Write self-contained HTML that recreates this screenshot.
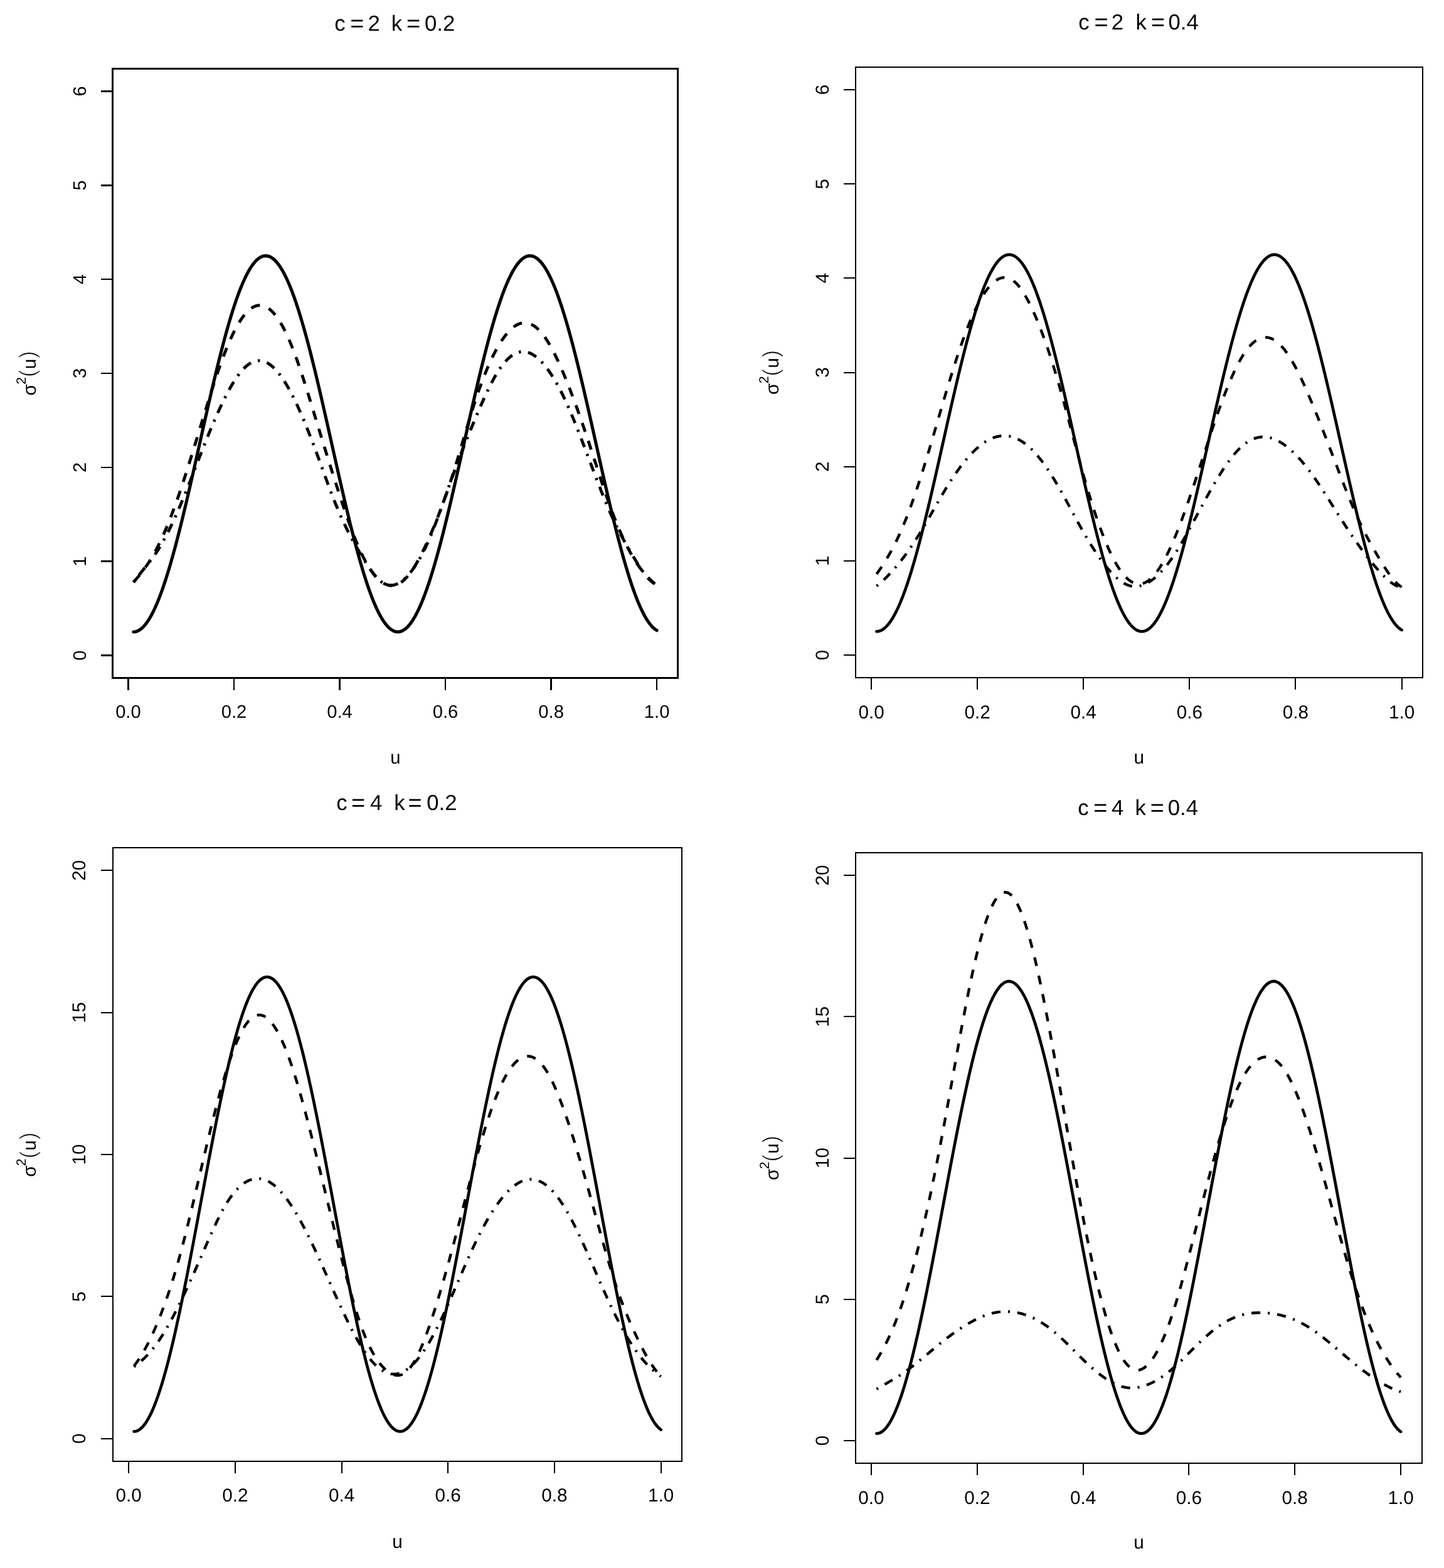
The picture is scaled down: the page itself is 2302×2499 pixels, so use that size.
<!DOCTYPE html>
<html lang="en"><head><meta charset="utf-8"><title>Variance function estimates</title>
<style>html,body{margin:0;padding:0;background:#fff}body{width:2302px;height:2499px;overflow:hidden}svg{display:block}text{white-space:pre}</style>
</head><body>
<svg width="2302" height="2499" viewBox="0 0 2302 2499" shape-rendering="auto" text-rendering="geometricPrecision">
<rect width="2302" height="2499" fill="#fff"/>
<g>
<g fill="none" stroke="#000" stroke-width="3" stroke-linecap="butt" shape-rendering="crispEdges">
<path d="M204.44 1080.5V1099.5M372.98 1080.5V1099.5M541.52 1080.5V1099.5M710.06 1080.5V1099.5M878.59 1080.5V1099.5M1047.13 1080.5V1099.5M179.5 1044.54H160.5M179.5 894.69H160.5M179.5 744.85H160.5M179.5 595H160.5M179.5 445.15H160.5M179.5 295.31H160.5M179.5 145.46H160.5" stroke-width="2.4"/>
<rect x="179.5" y="109.5" width="901" height="971"/>
</g>
<g fill="none" stroke="#000" stroke-linejoin="round">
<path d="M212.87 1007.08L214.98 1006.93L217.08 1006.48L219.19 1005.75L221.3 1004.71L223.4 1003.39L225.51 1001.77L227.62 999.86L229.72 997.66L231.83 995.18L233.94 992.41L236.04 989.36L238.15 986.03L240.26 982.43L242.36 978.55L244.47 974.41L246.58 970.01L248.68 965.34L250.79 960.42L252.9 955.25L255 949.84L257.11 944.19L259.22 938.3L261.32 932.19L263.43 925.85L265.54 919.3L267.64 912.54L269.75 905.57L271.86 898.41L273.97 891.07L276.07 883.54L278.18 875.84L280.29 867.97L282.39 859.94L284.5 851.76L286.61 843.44L288.71 834.99L290.82 826.41L292.93 817.71L295.03 808.9L297.14 799.99L299.25 791L301.35 781.91L303.46 772.76L305.57 763.54L307.67 754.27L309.78 744.95L311.89 735.59L313.99 726.2L316.1 716.8L318.21 707.38L320.31 697.97L322.42 688.57L324.53 679.18L326.63 669.82L328.74 660.5L330.85 651.23L332.95 642.01L335.06 632.85L337.17 623.77L339.27 614.77L341.38 605.87L343.49 597.06L345.59 588.36L347.7 579.78L349.81 571.33L351.91 563.01L354.02 554.83L356.13 546.8L358.23 538.93L360.34 531.23L362.45 523.7L364.55 516.35L366.66 509.19L368.77 502.23L370.87 495.47L372.98 488.92L375.09 482.58L377.19 476.47L379.3 470.58L381.41 464.93L383.51 459.52L385.62 454.35L387.73 449.43L389.83 444.76L391.94 440.36L394.05 436.22L396.15 432.34L398.26 428.74L400.37 425.41L402.47 422.36L404.58 419.59L406.69 417.11L408.79 414.91L410.9 413L413.01 411.38L415.12 410.06L417.22 409.02L419.33 408.28L421.44 407.84L423.54 407.69L425.65 407.84L427.76 408.28L429.86 409.02L431.97 410.06L434.08 411.38L436.18 413L438.29 414.91L440.4 417.11L442.5 419.59L444.61 422.36L446.72 425.41L448.82 428.74L450.93 432.34L453.04 436.22L455.14 440.36L457.25 444.76L459.36 449.43L461.46 454.35L463.57 459.52L465.68 464.93L467.78 470.58L469.89 476.47L472 482.58L474.1 488.92L476.21 495.47L478.32 502.23L480.42 509.19L482.53 516.35L484.64 523.7L486.74 531.23L488.85 538.93L490.96 546.8L493.06 554.83L495.17 563.01L497.28 571.33L499.38 579.78L501.49 588.36L503.6 597.06L505.7 605.87L507.81 614.77L509.92 623.77L512.02 632.85L514.13 642.01L516.24 651.23L518.34 660.5L520.45 669.82L522.56 679.18L524.66 688.57L526.77 697.97L528.88 707.38L530.98 716.8L533.09 726.2L535.2 735.59L537.3 744.95L539.41 754.27L541.52 763.54L543.62 772.76L545.73 781.91L547.84 791L549.94 799.99L552.05 808.9L554.16 817.71L556.26 826.41L558.37 834.99L560.48 843.44L562.59 851.76L564.69 859.94L566.8 867.97L568.91 875.84L571.01 883.54L573.12 891.07L575.23 898.41L577.33 905.57L579.44 912.54L581.55 919.3L583.65 925.85L585.76 932.19L587.87 938.3L589.97 944.19L592.08 949.84L594.19 955.25L596.29 960.42L598.4 965.34L600.51 970.01L602.61 974.41L604.72 978.55L606.83 982.43L608.93 986.03L611.04 989.36L613.15 992.41L615.25 995.18L617.36 997.66L619.47 999.86L621.57 1001.77L623.68 1003.39L625.79 1004.71L627.89 1005.75L630 1006.48L632.11 1006.93L634.21 1007.08L636.32 1006.93L638.43 1006.48L640.53 1005.75L642.64 1004.71L644.75 1003.39L646.85 1001.77L648.96 999.86L651.07 997.66L653.17 995.18L655.28 992.41L657.39 989.36L659.49 986.03L661.6 982.43L663.71 978.55L665.81 974.41L667.92 970.01L670.03 965.34L672.13 960.42L674.24 955.25L676.35 949.84L678.45 944.19L680.56 938.3L682.67 932.19L684.77 925.85L686.88 919.3L688.99 912.54L691.09 905.57L693.2 898.41L695.31 891.07L697.41 883.54L699.52 875.84L701.63 867.97L703.74 859.94L705.84 851.76L707.95 843.44L710.06 834.99L712.16 826.41L714.27 817.71L716.38 808.9L718.48 799.99L720.59 791L722.7 781.91L724.8 772.76L726.91 763.54L729.02 754.27L731.12 744.95L733.23 735.59L735.34 726.2L737.44 716.8L739.55 707.38L741.66 697.97L743.76 688.57L745.87 679.18L747.98 669.82L750.08 660.5L752.19 651.23L754.3 642.01L756.4 632.85L758.51 623.77L760.62 614.77L762.72 605.87L764.83 597.06L766.94 588.36L769.04 579.78L771.15 571.33L773.26 563.01L775.36 554.83L777.47 546.8L779.58 538.93L781.68 531.23L783.79 523.7L785.9 516.35L788 509.19L790.11 502.23L792.22 495.47L794.32 488.92L796.43 482.58L798.54 476.47L800.64 470.58L802.75 464.93L804.86 459.52L806.96 454.35L809.07 449.43L811.18 444.76L813.28 440.36L815.39 436.22L817.5 432.34L819.6 428.74L821.71 425.41L823.82 422.36L825.92 419.59L828.03 417.11L830.14 414.91L832.24 413L834.35 411.38L836.46 410.06L838.56 409.02L840.67 408.28L842.78 407.84L844.88 407.69L846.99 407.84L849.1 408.28L851.21 409.02L853.31 410.06L855.42 411.38L857.53 413L859.63 414.91L861.74 417.11L863.85 419.59L865.95 422.36L868.06 425.41L870.17 428.74L872.27 432.34L874.38 436.22L876.49 440.36L878.59 444.76L880.7 449.43L882.81 454.35L884.91 459.52L887.02 464.93L889.13 470.58L891.23 476.47L893.34 482.58L895.45 488.92L897.55 495.47L899.66 502.23L901.77 509.19L903.87 516.35L905.98 523.7L908.09 531.23L910.19 538.93L912.3 546.8L914.41 554.83L916.51 563.01L918.62 571.33L920.73 579.78L922.83 588.36L924.94 597.06L927.05 605.87L929.15 614.77L931.26 623.77L933.37 632.85L935.47 642.01L937.58 651.23L939.69 660.5L941.79 669.82L943.9 679.18L946.01 688.57L948.11 697.97L950.22 707.38L952.33 716.8L954.43 726.2L956.54 735.59L958.65 744.95L960.75 754.27L962.86 763.54L964.97 772.76L967.07 781.91L969.18 791L971.29 799.99L973.39 808.9L975.5 817.71L977.61 826.41L979.71 834.99L981.82 843.44L983.93 851.76L986.03 859.94L988.14 867.97L990.25 875.84L992.36 883.54L994.46 891.07L996.57 898.41L998.68 905.57L1000.78 912.54L1002.89 919.3L1005 925.85L1007.1 932.19L1009.21 938.3L1011.32 944.19L1013.42 949.84L1015.53 955.25L1017.64 960.42L1019.74 965.34L1021.85 970.01L1023.96 974.41L1026.06 978.55L1028.17 982.43L1030.28 986.03L1032.38 989.36L1034.49 992.41L1036.6 995.18L1038.7 997.66L1040.81 999.86L1042.92 1001.77L1045.02 1003.39L1047.13 1004.71" stroke-width="5.1" stroke-linecap="round"/>
<path d="M212.87 927.76L214.98 925.4L217.08 922.99L219.19 920.52L221.3 917.99L223.4 915.38L225.51 912.7L227.62 909.94L229.72 907.1L231.83 904.16L233.94 901.12L236.04 897.98L238.15 894.73L240.26 891.36L242.36 887.88L244.47 884.26L246.58 880.52L248.68 876.64L250.79 872.62L252.9 868.45L255 864.15L257.11 859.71L259.22 855.13L261.32 850.42L263.43 845.58L265.54 840.61L267.64 835.52L269.75 830.31L271.86 824.97L273.97 819.52L276.07 813.95L278.18 808.27L280.29 802.47L282.39 796.57L284.5 790.57L286.61 784.46L288.71 778.25L290.82 771.95L292.93 765.56L295.03 759.09L297.14 752.56L299.25 745.95L301.35 739.29L303.46 732.57L305.57 725.8L307.67 719L309.78 712.16L311.89 705.3L313.99 698.41L316.1 691.51L318.21 684.61L320.31 677.7L322.42 670.8L324.53 663.91L326.63 657.04L328.74 650.2L330.85 643.41L332.95 636.66L335.06 629.96L337.17 623.34L339.27 616.78L341.38 610.31L343.49 603.93L345.59 597.66L347.7 591.49L349.81 585.44L351.91 579.52L354.02 573.73L356.13 568.09L358.23 562.6L360.34 557.28L362.45 552.12L364.55 547.12L366.66 542.3L368.77 537.66L370.87 533.2L372.98 528.91L375.09 524.82L377.19 520.91L379.3 517.2L381.41 513.69L383.51 510.37L385.62 507.26L387.73 504.36L389.83 501.66L391.94 499.19L394.05 496.93L396.15 494.89L398.26 493.07L400.37 491.47L402.47 490.1L404.58 488.96L406.69 488.03L408.79 487.33L410.9 486.86L413.01 486.61L415.12 486.59L417.22 486.8L419.33 487.23L421.44 487.89L423.54 488.79L425.65 489.9L427.76 491.25L429.86 492.83L431.97 494.64L434.08 496.68L436.18 498.95L438.29 501.43L440.4 504.15L442.5 507.08L444.61 510.22L446.72 513.58L448.82 517.16L450.93 520.94L453.04 524.93L455.14 529.12L457.25 533.51L459.36 538.11L461.46 542.9L463.57 547.88L465.68 553.06L467.78 558.42L469.89 563.97L472 569.68L474.1 575.56L476.21 581.59L478.32 587.75L480.42 594.04L482.53 600.45L484.64 606.95L486.74 613.55L488.85 620.23L490.96 626.97L493.06 633.78L495.17 640.63L497.28 647.51L499.38 654.41L501.49 661.33L503.6 668.24L505.7 675.15L507.81 682.04L509.92 688.92L512.02 695.78L514.13 702.63L516.24 709.46L518.34 716.26L520.45 723.04L522.56 729.8L524.66 736.53L526.77 743.24L528.88 749.91L530.98 756.55L533.09 763.16L535.2 769.73L537.3 776.26L539.41 782.76L541.52 789.21L543.62 795.62L545.73 801.96L547.84 808.25L549.94 814.45L552.05 820.57L554.16 826.6L556.26 832.53L558.37 838.35L560.48 844.05L562.59 849.62L564.69 855.06L566.8 860.35L568.91 865.49L571.01 870.46L573.12 875.27L575.23 879.9L577.33 884.34L579.44 888.58L581.55 892.64L583.65 896.51L585.76 900.18L587.87 903.67L589.97 906.96L592.08 910.05L594.19 912.96L596.29 915.67L598.4 918.19L600.51 920.51L602.61 922.64L604.72 924.58L606.83 926.32L608.93 927.87L611.04 929.22L613.15 930.37L615.25 931.33L617.36 932.09L619.47 932.66L621.57 933.02L623.68 933.19L625.79 933.16L627.89 932.93L630 932.49L632.11 931.86L634.21 931.02L636.32 929.98L638.43 928.74L640.53 927.29L642.64 925.64L644.75 923.78L646.85 921.71L648.96 919.44L651.07 916.97L653.17 914.29L655.28 911.43L657.39 908.38L659.49 905.16L661.6 901.77L663.71 898.22L665.81 894.51L667.92 890.66L670.03 886.68L672.13 882.56L674.24 878.32L676.35 873.96L678.45 869.5L680.56 864.94L682.67 860.28L684.77 855.54L686.88 850.72L688.99 845.82L691.09 840.83L693.2 835.76L695.31 830.59L697.41 825.33L699.52 819.98L701.63 814.52L703.74 808.96L705.84 803.29L707.95 797.51L710.06 791.62L712.16 785.61L714.27 779.48L716.38 773.22L718.48 766.84L720.59 760.33L722.7 753.68L724.8 746.92L726.91 740.05L729.02 733.1L731.12 726.07L733.23 718.99L735.34 711.88L737.44 704.74L739.55 697.61L741.66 690.49L743.76 683.4L745.87 676.36L747.98 669.38L750.08 662.49L752.19 655.7L754.3 649.02L756.4 642.48L758.51 636.09L760.62 629.85L762.72 623.77L764.83 617.86L766.94 612.09L769.04 606.49L771.15 601.05L773.26 595.76L775.36 590.64L777.47 585.67L779.58 580.86L781.68 576.21L783.79 571.72L785.9 567.39L788 563.22L790.11 559.22L792.22 555.37L794.32 551.68L796.43 548.15L798.54 544.78L800.64 541.58L802.75 538.55L804.86 535.69L806.96 533L809.07 530.48L811.18 528.13L813.28 525.97L815.39 523.98L817.5 522.18L819.6 520.56L821.71 519.12L823.82 517.88L825.92 516.82L828.03 515.95L830.14 515.28L832.24 514.81L834.35 514.53L836.46 514.44L838.56 514.55L840.67 514.86L842.78 515.36L844.88 516.06L846.99 516.95L849.1 518.04L851.21 519.33L853.31 520.8L855.42 522.48L857.53 524.34L859.63 526.41L861.74 528.66L863.85 531.12L865.95 533.76L868.06 536.6L870.17 539.63L872.27 542.84L874.38 546.23L876.49 549.79L878.59 553.51L880.7 557.39L882.81 561.42L884.91 565.59L887.02 569.91L889.13 574.35L891.23 578.93L893.34 583.62L895.45 588.42L897.55 593.34L899.66 598.35L901.77 603.46L903.87 608.66L905.98 613.94L908.09 619.3L910.19 624.75L912.3 630.27L914.41 635.88L916.51 641.55L918.62 647.3L920.73 653.12L922.83 659L924.94 664.96L927.05 670.97L929.15 677.05L931.26 683.19L933.37 689.38L935.47 695.63L937.58 701.94L939.69 708.29L941.79 714.69L943.9 721.13L946.01 727.59L948.11 734.07L950.22 740.54L952.33 747.02L954.43 753.47L956.54 759.9L958.65 766.29L960.75 772.62L962.86 778.9L964.97 785.11L967.07 791.24L969.18 797.28L971.29 803.22L973.39 809.05L975.5 814.75L977.61 820.32L979.71 825.76L981.82 831.07L983.93 836.25L986.03 841.3L988.14 846.22L990.25 851.01L992.36 855.66L994.46 860.19L996.57 864.58L998.68 868.84L1000.78 872.98L1002.89 876.97L1005 880.84L1007.1 884.58L1009.21 888.18L1011.32 891.66L1013.42 895L1015.53 898.21L1017.64 901.3L1019.74 904.26L1021.85 907.1L1023.96 909.82L1026.06 912.42L1028.17 914.9L1030.28 917.28L1032.38 919.54L1034.49 921.69L1036.6 923.74L1038.7 925.69L1040.81 927.53L1042.92 929.28L1045.02 930.93L1047.13 932.48" stroke-width="4.8" stroke-linecap="butt" stroke-dasharray="14.78 15.18" stroke-dashoffset="0"/>
<path d="M212.87 928.26L214.98 925.28L217.08 922.4L219.19 919.59L221.3 916.86L223.4 914.17L225.51 911.53L227.62 908.92L229.72 906.32L231.83 903.72L233.94 901.11L236.04 898.47L238.15 895.79L240.26 893.06L242.36 890.27L244.47 887.39L246.58 884.43L248.68 881.35L250.79 878.16L252.9 874.85L255 871.42L257.11 867.88L259.22 864.22L261.32 860.45L263.43 856.57L265.54 852.58L267.64 848.5L269.75 844.31L271.86 840.02L273.97 835.64L276.07 831.16L278.18 826.59L280.29 821.93L282.39 817.19L284.5 812.36L286.61 807.45L288.71 802.46L290.82 797.41L292.93 792.28L295.03 787.1L297.14 781.87L299.25 776.6L301.35 771.28L303.46 765.93L305.57 760.56L307.67 755.17L309.78 749.76L311.89 744.35L313.99 738.94L316.1 733.53L318.21 728.14L320.31 722.76L322.42 717.41L324.53 712.09L326.63 706.81L328.74 701.56L330.85 696.36L332.95 691.21L335.06 686.11L337.17 681.06L339.27 676.08L341.38 671.16L343.49 666.31L345.59 661.53L347.7 656.83L349.81 652.21L351.91 647.68L354.02 643.24L356.13 638.89L358.23 634.64L360.34 630.49L362.45 626.45L364.55 622.53L366.66 618.72L368.77 615.04L370.87 611.48L372.98 608.06L375.09 604.78L377.19 601.64L379.3 598.65L381.41 595.82L383.51 593.15L385.62 590.64L387.73 588.3L389.83 586.14L391.94 584.16L394.05 582.37L396.15 580.76L398.26 579.35L400.37 578.13L402.47 577.1L404.58 576.26L406.69 575.61L408.79 575.15L410.9 574.87L413.01 574.78L415.12 574.88L417.22 575.17L419.33 575.64L421.44 576.29L423.54 577.13L425.65 578.15L427.76 579.35L429.86 580.73L431.97 582.3L434.08 584.04L436.18 585.96L438.29 588.05L440.4 590.31L442.5 592.73L444.61 595.32L446.72 598.06L448.82 600.96L450.93 604.01L453.04 607.2L455.14 610.55L457.25 614.03L459.36 617.65L461.46 621.4L463.57 625.29L465.68 629.3L467.78 633.44L469.89 637.7L472 642.08L474.1 646.56L476.21 651.16L478.32 655.86L480.42 660.66L482.53 665.55L484.64 670.54L486.74 675.62L488.85 680.78L490.96 686.02L493.06 691.34L495.17 696.73L497.28 702.19L499.38 707.71L501.49 713.29L503.6 718.93L505.7 724.62L507.81 730.35L509.92 736.11L512.02 741.88L514.13 747.67L516.24 753.45L518.34 759.22L520.45 764.96L522.56 770.67L524.66 776.33L526.77 781.93L528.88 787.47L530.98 792.92L533.09 798.29L535.2 803.56L537.3 808.72L539.41 813.75L541.52 818.66L543.62 823.44L545.73 828.09L547.84 832.63L549.94 837.06L552.05 841.38L554.16 845.6L556.26 849.73L558.37 853.78L560.48 857.74L562.59 861.62L564.69 865.44L566.8 869.18L568.91 872.87L571.01 876.51L573.12 880.1L575.23 883.65L577.33 887.16L579.44 890.62L581.55 894.04L583.65 897.38L585.76 900.65L587.87 903.83L589.97 906.9L592.08 909.86L594.19 912.69L596.29 915.39L598.4 917.94L600.51 920.32L602.61 922.53L604.72 924.55L606.83 926.38L608.93 928L611.04 929.39L613.15 930.55L615.25 931.48L617.36 932.17L619.47 932.64L621.57 932.89L623.68 932.92L625.79 932.74L627.89 932.36L630 931.77L632.11 930.99L634.21 930.03L636.32 928.88L638.43 927.55L640.53 926.05L642.64 924.38L644.75 922.55L646.85 920.56L648.96 918.42L651.07 916.14L653.17 913.7L655.28 911.12L657.39 908.38L659.49 905.49L661.6 902.44L663.71 899.24L665.81 895.88L667.92 892.36L670.03 888.68L672.13 884.85L674.24 880.84L676.35 876.68L678.45 872.35L680.56 867.85L682.67 863.18L684.77 858.34L686.88 853.34L688.99 848.18L691.09 842.87L693.2 837.44L695.31 831.89L697.41 826.24L699.52 820.5L701.63 814.69L703.74 808.82L705.84 802.9L707.95 796.95L710.06 790.98L712.16 785.01L714.27 779.05L716.38 773.11L718.48 767.21L720.59 761.36L722.7 755.57L724.8 749.85L726.91 744.19L729.02 738.59L731.12 733.05L733.23 727.57L735.34 722.14L737.44 716.76L739.55 711.43L741.66 706.15L743.76 700.9L745.87 695.7L747.98 690.54L750.08 685.41L752.19 680.32L754.3 675.25L756.4 670.22L758.51 665.2L760.62 660.22L762.72 655.28L764.83 650.38L766.94 645.54L769.04 640.76L771.15 636.05L773.26 631.42L775.36 626.88L777.47 622.43L779.58 618.09L781.68 613.87L783.79 609.76L785.9 605.79L788 601.96L790.11 598.27L792.22 594.74L794.32 591.38L796.43 588.18L798.54 585.16L800.64 582.31L802.75 579.62L804.86 577.12L806.96 574.78L809.07 572.62L811.18 570.63L813.28 568.82L815.39 567.19L817.5 565.73L819.6 564.44L821.71 563.34L823.82 562.41L825.92 561.66L828.03 561.09L830.14 560.7L832.24 560.48L834.35 560.45L836.46 560.59L838.56 560.9L840.67 561.39L842.78 562.04L844.88 562.85L846.99 563.83L849.1 564.97L851.21 566.27L853.31 567.72L855.42 569.33L857.53 571.08L859.63 572.99L861.74 575.04L863.85 577.23L865.95 579.57L868.06 582.04L870.17 584.65L872.27 587.4L874.38 590.28L876.49 593.29L878.59 596.43L880.7 599.7L882.81 603.11L884.91 606.63L887.02 610.29L889.13 614.07L891.23 617.97L893.34 621.99L895.45 626.13L897.55 630.39L899.66 634.76L901.77 639.26L903.87 643.86L905.98 648.57L908.09 653.39L910.19 658.3L912.3 663.31L914.41 668.39L916.51 673.56L918.62 678.79L920.73 684.09L922.83 689.45L924.94 694.85L927.05 700.31L929.15 705.8L931.26 711.32L933.37 716.87L935.47 722.43L937.58 728.01L939.69 733.6L941.79 739.19L943.9 744.77L946.01 750.33L948.11 755.88L950.22 761.4L952.33 766.88L954.43 772.33L956.54 777.73L958.65 783.08L960.75 788.36L962.86 793.58L964.97 798.73L967.07 803.8L969.18 808.79L971.29 813.68L973.39 818.47L975.5 823.15L977.61 827.73L979.71 832.2L981.82 836.57L983.93 840.85L986.03 845.04L988.14 849.13L990.25 853.15L992.36 857.09L994.46 860.96L996.57 864.76L998.68 868.51L1000.78 872.19L1002.89 875.82L1005 879.4L1007.1 882.94L1009.21 886.44L1011.32 889.91L1013.42 893.35L1015.53 896.74L1017.64 900.08L1019.74 903.34L1021.85 906.52L1023.96 909.58L1026.06 912.54L1028.17 915.35L1030.28 918.02L1032.38 920.52L1034.49 922.84L1036.6 924.97L1038.7 926.89L1040.81 928.58L1042.92 930.03L1045.02 931.22L1047.13 932.15" stroke-width="4.8" stroke-linecap="butt" stroke-dasharray="3.54 11.43 14.78 11.43" stroke-dashoffset="0"/>
</g>
<g fill="#000" font-family='"Liberation Sans", "DejaVu Sans", sans-serif' font-size="29.2">
<text x="204.44" y="1144.3" text-anchor="middle">0.0</text>
<text x="372.98" y="1144.3" text-anchor="middle">0.2</text>
<text x="541.52" y="1144.3" text-anchor="middle">0.4</text>
<text x="710.06" y="1144.3" text-anchor="middle">0.6</text>
<text x="878.59" y="1144.3" text-anchor="middle">0.8</text>
<text x="1047.13" y="1144.3" text-anchor="middle">1.0</text>
<text transform="translate(136.8 1044.54) rotate(-90)" text-anchor="middle">0</text>
<text transform="translate(136.8 894.69) rotate(-90)" text-anchor="middle">1</text>
<text transform="translate(136.8 744.85) rotate(-90)" text-anchor="middle">2</text>
<text transform="translate(136.8 595) rotate(-90)" text-anchor="middle">3</text>
<text transform="translate(136.8 445.15) rotate(-90)" text-anchor="middle">4</text>
<text transform="translate(136.8 295.31) rotate(-90)" text-anchor="middle">5</text>
<text transform="translate(136.8 145.46) rotate(-90)" text-anchor="middle">6</text>
<text x="630.3" y="1216.8" text-anchor="middle">u</text>
<text transform="translate(56.6 595.3) rotate(-90)"><tspan x="-35.15" y="0" font-size="29.7">σ</tspan><tspan x="-17.57" y="-15.9" font-size="21.3">2</tspan><tspan x="-5.86" y="-0.3" font-size="36.5" stroke="#fff" stroke-width="1.1" paint-order="fill stroke">(</tspan><tspan x="7.07" y="0" font-size="29.7">u</tspan><tspan x="24.09" y="-0.3" font-size="36.5" stroke="#fff" stroke-width="1.1" paint-order="fill stroke">)</tspan></text>
</g>
<g fill="#000" font-family='"Liberation Sans", "DejaVu Sans", sans-serif' font-size="34.7">
<text><tspan x="533.13" y="49.4">c</tspan> <tspan x="558.15" y="50.43" font-size="37.82">=</tspan> <tspan x="586.55" y="49.4">2</tspan>  <tspan x="623.66" y="49.4">k</tspan> <tspan x="647.95" y="50.43" font-size="37.82">=</tspan> <tspan x="677.04" y="49.4">0.2</tspan></text>
</g>
</g>
<g>
<g fill="none" stroke="#000" stroke-width="2" stroke-linecap="butt" shape-rendering="crispEdges">
<path d="M1389.03 1080V1099M1558.12 1080V1099M1727.22 1080V1099M1896.32 1080V1099M2065.42 1080V1099M2234.52 1080V1099M1364 1043.96H1345M1364 893.81H1345M1364 743.65H1345M1364 593.5H1345M1364 443.35H1345M1364 293.19H1345M1364 143.04H1345" stroke-width="2"/>
<rect x="1364" y="107" width="904" height="973"/>
</g>
<g fill="none" stroke="#000" stroke-linejoin="round">
<path d="M1397.48 1006.42L1399.6 1006.28L1401.71 1005.83L1403.82 1005.09L1405.94 1004.06L1408.05 1002.73L1410.16 1001.11L1412.28 999.19L1414.39 996.99L1416.51 994.5L1418.62 991.73L1420.73 988.67L1422.85 985.34L1424.96 981.73L1427.07 977.84L1429.19 973.69L1431.3 969.28L1433.41 964.6L1435.53 959.67L1437.64 954.5L1439.76 949.07L1441.87 943.41L1443.98 937.51L1446.1 931.38L1448.21 925.03L1450.32 918.47L1452.44 911.69L1454.55 904.71L1456.67 897.54L1458.78 890.18L1460.89 882.63L1463.01 874.91L1465.12 867.03L1467.23 858.99L1469.35 850.79L1471.46 842.45L1473.58 833.98L1475.69 825.38L1477.8 816.67L1479.92 807.84L1482.03 798.92L1484.14 789.9L1486.26 780.8L1488.37 771.63L1490.49 762.39L1492.6 753.09L1494.71 743.75L1496.83 734.38L1498.94 724.97L1501.05 715.55L1503.17 706.12L1505.28 696.68L1507.4 687.26L1509.51 677.85L1511.62 668.48L1513.74 659.14L1515.85 649.84L1517.96 640.61L1520.08 631.43L1522.19 622.33L1524.31 613.32L1526.42 604.39L1528.53 595.56L1530.65 586.85L1532.76 578.25L1534.87 569.78L1536.99 561.44L1539.1 553.25L1541.22 545.2L1543.33 537.32L1545.44 529.6L1547.56 522.05L1549.67 514.69L1551.78 507.52L1553.9 500.54L1556.01 493.77L1558.12 487.2L1560.24 480.85L1562.35 474.72L1564.47 468.83L1566.58 463.16L1568.69 457.74L1570.81 452.56L1572.92 447.63L1575.03 442.95L1577.15 438.54L1579.26 434.39L1581.38 430.51L1583.49 426.9L1585.6 423.56L1587.72 420.51L1589.83 417.73L1591.94 415.24L1594.06 413.04L1596.17 411.13L1598.29 409.5L1600.4 408.18L1602.51 407.14L1604.63 406.4L1606.74 405.96L1608.85 405.81L1610.97 405.96L1613.08 406.4L1615.2 407.14L1617.31 408.18L1619.42 409.5L1621.54 411.13L1623.65 413.04L1625.76 415.24L1627.88 417.73L1629.99 420.51L1632.11 423.56L1634.22 426.9L1636.33 430.51L1638.45 434.39L1640.56 438.54L1642.67 442.95L1644.79 447.63L1646.9 452.56L1649.02 457.74L1651.13 463.16L1653.24 468.83L1655.36 474.72L1657.47 480.85L1659.58 487.2L1661.7 493.77L1663.81 500.54L1665.93 507.52L1668.04 514.69L1670.15 522.05L1672.27 529.6L1674.38 537.32L1676.49 545.2L1678.61 553.25L1680.72 561.44L1682.84 569.78L1684.95 578.25L1687.06 586.85L1689.18 595.56L1691.29 604.39L1693.4 613.32L1695.52 622.33L1697.63 631.43L1699.74 640.61L1701.86 649.84L1703.97 659.14L1706.09 668.48L1708.2 677.85L1710.31 687.26L1712.43 696.68L1714.54 706.12L1716.65 715.55L1718.77 724.97L1720.88 734.38L1723 743.75L1725.11 753.09L1727.22 762.39L1729.34 771.63L1731.45 780.8L1733.56 789.9L1735.68 798.92L1737.79 807.84L1739.91 816.67L1742.02 825.38L1744.13 833.98L1746.25 842.45L1748.36 850.79L1750.47 858.99L1752.59 867.03L1754.7 874.91L1756.82 882.63L1758.93 890.18L1761.04 897.54L1763.16 904.71L1765.27 911.69L1767.38 918.47L1769.5 925.03L1771.61 931.38L1773.73 937.51L1775.84 943.41L1777.95 949.07L1780.07 954.5L1782.18 959.67L1784.29 964.6L1786.41 969.28L1788.52 973.69L1790.64 977.84L1792.75 981.73L1794.86 985.34L1796.98 988.67L1799.09 991.73L1801.2 994.5L1803.32 996.99L1805.43 999.19L1807.55 1001.11L1809.66 1002.73L1811.77 1004.06L1813.89 1005.09L1816 1005.83L1818.11 1006.28L1820.23 1006.42L1822.34 1006.28L1824.45 1005.83L1826.57 1005.09L1828.68 1004.06L1830.8 1002.73L1832.91 1001.11L1835.02 999.19L1837.14 996.99L1839.25 994.5L1841.36 991.73L1843.48 988.67L1845.59 985.34L1847.71 981.73L1849.82 977.84L1851.93 973.69L1854.05 969.28L1856.16 964.6L1858.27 959.67L1860.39 954.5L1862.5 949.07L1864.62 943.41L1866.73 937.51L1868.84 931.38L1870.96 925.03L1873.07 918.47L1875.18 911.69L1877.3 904.71L1879.41 897.54L1881.53 890.18L1883.64 882.63L1885.75 874.91L1887.87 867.03L1889.98 858.99L1892.09 850.79L1894.21 842.45L1896.32 833.98L1898.44 825.38L1900.55 816.67L1902.66 807.84L1904.78 798.92L1906.89 789.9L1909 780.8L1911.12 771.63L1913.23 762.39L1915.35 753.09L1917.46 743.75L1919.57 734.38L1921.69 724.97L1923.8 715.55L1925.91 706.12L1928.03 696.68L1930.14 687.26L1932.26 677.85L1934.37 668.48L1936.48 659.14L1938.6 649.84L1940.71 640.61L1942.82 631.43L1944.94 622.33L1947.05 613.32L1949.16 604.39L1951.28 595.56L1953.39 586.85L1955.51 578.25L1957.62 569.78L1959.73 561.44L1961.85 553.25L1963.96 545.2L1966.07 537.32L1968.19 529.6L1970.3 522.05L1972.42 514.69L1974.53 507.52L1976.64 500.54L1978.76 493.77L1980.87 487.2L1982.98 480.85L1985.1 474.72L1987.21 468.83L1989.33 463.16L1991.44 457.74L1993.55 452.56L1995.67 447.63L1997.78 442.95L1999.89 438.54L2002.01 434.39L2004.12 430.51L2006.24 426.9L2008.35 423.56L2010.46 420.51L2012.58 417.73L2014.69 415.24L2016.8 413.04L2018.92 411.13L2021.03 409.5L2023.15 408.18L2025.26 407.14L2027.37 406.4L2029.49 405.96L2031.6 405.81L2033.71 405.96L2035.83 406.4L2037.94 407.14L2040.06 408.18L2042.17 409.5L2044.28 411.13L2046.4 413.04L2048.51 415.24L2050.62 417.73L2052.74 420.51L2054.85 423.56L2056.97 426.9L2059.08 430.51L2061.19 434.39L2063.31 438.54L2065.42 442.95L2067.53 447.63L2069.65 452.56L2071.76 457.74L2073.88 463.16L2075.99 468.83L2078.1 474.72L2080.22 480.85L2082.33 487.2L2084.44 493.77L2086.56 500.54L2088.67 507.52L2090.78 514.69L2092.9 522.05L2095.01 529.6L2097.13 537.32L2099.24 545.2L2101.35 553.25L2103.47 561.44L2105.58 569.78L2107.69 578.25L2109.81 586.85L2111.92 595.56L2114.04 604.39L2116.15 613.32L2118.26 622.33L2120.38 631.43L2122.49 640.61L2124.6 649.84L2126.72 659.14L2128.83 668.48L2130.95 677.85L2133.06 687.26L2135.17 696.68L2137.29 706.12L2139.4 715.55L2141.51 724.97L2143.63 734.38L2145.74 743.75L2147.86 753.09L2149.97 762.39L2152.08 771.63L2154.2 780.8L2156.31 789.9L2158.42 798.92L2160.54 807.84L2162.65 816.67L2164.77 825.38L2166.88 833.98L2168.99 842.45L2171.11 850.79L2173.22 858.99L2175.33 867.03L2177.45 874.91L2179.56 882.63L2181.68 890.18L2183.79 897.54L2185.9 904.71L2188.02 911.69L2190.13 918.47L2192.24 925.03L2194.36 931.38L2196.47 937.51L2198.59 943.41L2200.7 949.07L2202.81 954.5L2204.93 959.67L2207.04 964.6L2209.15 969.28L2211.27 973.69L2213.38 977.84L2215.49 981.73L2217.61 985.34L2219.72 988.67L2221.84 991.73L2223.95 994.5L2226.06 996.99L2228.18 999.19L2230.29 1001.11L2232.4 1002.73L2234.52 1004.06" stroke-width="4.7" stroke-linecap="round"/>
<path d="M1397.48 914.93L1399.6 911.93L1401.71 908.88L1403.82 905.77L1405.94 902.59L1408.05 899.34L1410.16 896.02L1412.28 892.62L1414.39 889.12L1416.51 885.54L1418.62 881.85L1420.73 878.06L1422.85 874.15L1424.96 870.13L1427.07 865.99L1429.19 861.71L1431.3 857.31L1433.41 852.76L1435.53 848.07L1437.64 843.23L1439.76 838.26L1441.87 833.14L1443.98 827.9L1446.1 822.52L1448.21 817.01L1450.32 811.38L1452.44 805.63L1454.55 799.76L1456.67 793.77L1458.78 787.67L1460.89 781.47L1463.01 775.15L1465.12 768.74L1467.23 762.23L1469.35 755.62L1471.46 748.91L1473.58 742.12L1475.69 735.25L1477.8 728.32L1479.92 721.31L1482.03 714.26L1484.14 707.15L1486.26 700.01L1488.37 692.83L1490.49 685.63L1492.6 678.42L1494.71 671.19L1496.83 663.97L1498.94 656.76L1501.05 649.56L1503.17 642.38L1505.28 635.24L1507.4 628.13L1509.51 621.07L1511.62 614.07L1513.74 607.12L1515.85 600.25L1517.96 593.44L1520.08 586.72L1522.19 580.08L1524.31 573.54L1526.42 567.09L1528.53 560.75L1530.65 554.53L1532.76 548.43L1534.87 542.45L1536.99 536.61L1539.1 530.91L1541.22 525.35L1543.33 519.95L1545.44 514.71L1547.56 509.63L1549.67 504.71L1551.78 499.96L1553.9 495.38L1556.01 490.97L1558.12 486.74L1560.24 482.68L1562.35 478.8L1564.47 475.1L1566.58 471.59L1568.69 468.26L1570.81 465.11L1572.92 462.16L1575.03 459.41L1577.15 456.84L1579.26 454.48L1581.38 452.31L1583.49 450.35L1585.6 448.59L1587.72 447.05L1589.83 445.71L1591.94 444.59L1594.06 443.69L1596.17 443L1598.29 442.54L1600.4 442.31L1602.51 442.31L1604.63 442.54L1606.74 443L1608.85 443.7L1610.97 444.65L1613.08 445.84L1615.2 447.27L1617.31 448.96L1619.42 450.89L1621.54 453.07L1623.65 455.47L1625.76 458.11L1627.88 460.97L1629.99 464.04L1632.11 467.32L1634.22 470.8L1636.33 474.48L1638.45 478.35L1640.56 482.4L1642.67 486.63L1644.79 491.03L1646.9 495.59L1649.02 500.31L1651.13 505.18L1653.24 510.2L1655.36 515.36L1657.47 520.65L1659.58 526.09L1661.7 531.67L1663.81 537.39L1665.93 543.24L1668.04 549.23L1670.15 555.36L1672.27 561.63L1674.38 568.03L1676.49 574.56L1678.61 581.23L1680.72 588.04L1682.84 594.98L1684.95 602.05L1687.06 609.25L1689.18 616.58L1691.29 624.04L1693.4 631.62L1695.52 639.29L1697.63 647.06L1699.74 654.89L1701.86 662.79L1703.97 670.73L1706.09 678.7L1708.2 686.69L1710.31 694.68L1712.43 702.66L1714.54 710.62L1716.65 718.54L1718.77 726.41L1720.88 734.21L1723 741.93L1725.11 749.56L1727.22 757.08L1729.34 764.5L1731.45 771.79L1733.56 778.97L1735.68 786.02L1737.79 792.95L1739.91 799.75L1742.02 806.42L1744.13 812.95L1746.25 819.34L1748.36 825.59L1750.47 831.69L1752.59 837.64L1754.7 843.43L1756.82 849.07L1758.93 854.54L1761.04 859.86L1763.16 865L1765.27 869.97L1767.38 874.77L1769.5 879.39L1771.61 883.83L1773.73 888.09L1775.84 892.16L1777.95 896.05L1780.07 899.74L1782.18 903.24L1784.29 906.54L1786.41 909.64L1788.52 912.53L1790.64 915.22L1792.75 917.71L1794.86 919.98L1796.98 922.03L1799.09 923.87L1801.2 925.49L1803.32 926.89L1805.43 928.07L1807.55 929.03L1809.66 929.78L1811.77 930.31L1813.89 930.62L1816 930.71L1818.11 930.58L1820.23 930.24L1822.34 929.69L1824.45 928.91L1826.57 927.92L1828.68 926.72L1830.8 925.29L1832.91 923.66L1835.02 921.81L1837.14 919.74L1839.25 917.47L1841.36 914.99L1843.48 912.31L1845.59 909.43L1847.71 906.36L1849.82 903.11L1851.93 899.67L1854.05 896.05L1856.16 892.26L1858.27 888.3L1860.39 884.17L1862.5 879.89L1864.62 875.44L1866.73 870.85L1868.84 866.11L1870.96 861.22L1873.07 856.2L1875.18 851.04L1877.3 845.76L1879.41 840.35L1881.53 834.84L1883.64 829.21L1885.75 823.49L1887.87 817.67L1889.98 811.76L1892.09 805.77L1894.21 799.7L1896.32 793.57L1898.44 787.37L1900.55 781.11L1902.66 774.8L1904.78 768.45L1906.89 762.06L1909 755.64L1911.12 749.2L1913.23 742.73L1915.35 736.26L1917.46 729.78L1919.57 723.31L1921.69 716.84L1923.8 710.39L1925.91 703.97L1928.03 697.57L1930.14 691.22L1932.26 684.91L1934.37 678.65L1936.48 672.45L1938.6 666.32L1940.71 660.26L1942.82 654.28L1944.94 648.38L1947.05 642.58L1949.16 636.88L1951.28 631.29L1953.39 625.8L1955.51 620.44L1957.62 615.19L1959.73 610.08L1961.85 605.1L1963.96 600.26L1966.07 595.56L1968.19 591.02L1970.3 586.64L1972.42 582.42L1974.53 578.37L1976.64 574.5L1978.76 570.81L1980.87 567.3L1982.98 563.99L1985.1 560.87L1987.21 557.95L1989.33 555.21L1991.44 552.68L1993.55 550.34L1995.67 548.19L1997.78 546.24L1999.89 544.49L2002.01 542.94L2004.12 541.58L2006.24 540.42L2008.35 539.46L2010.46 538.7L2012.58 538.15L2014.69 537.79L2016.8 537.63L2018.92 537.68L2021.03 537.92L2023.15 538.37L2025.26 539.01L2027.37 539.84L2029.49 540.86L2031.6 542.08L2033.71 543.48L2035.83 545.07L2037.94 546.84L2040.06 548.79L2042.17 550.93L2044.28 553.24L2046.4 555.72L2048.51 558.38L2050.62 561.21L2052.74 564.21L2054.85 567.38L2056.97 570.7L2059.08 574.19L2061.19 577.82L2063.31 581.59L2065.42 585.5L2067.53 589.54L2069.65 593.7L2071.76 597.98L2073.88 602.36L2075.99 606.85L2078.1 611.44L2080.22 616.11L2082.33 620.87L2084.44 625.7L2086.56 630.6L2088.67 635.57L2090.78 640.59L2092.9 645.66L2095.01 650.79L2097.13 655.96L2099.24 661.17L2101.35 666.42L2103.47 671.72L2105.58 677.04L2107.69 682.41L2109.81 687.8L2111.92 693.22L2114.04 698.66L2116.15 704.13L2118.26 709.62L2120.38 715.12L2122.49 720.64L2124.6 726.17L2126.72 731.71L2128.83 737.26L2130.95 742.8L2133.06 748.34L2135.17 753.86L2137.29 759.37L2139.4 764.84L2141.51 770.29L2143.63 775.69L2145.74 781.05L2147.86 786.36L2149.97 791.61L2152.08 796.79L2154.2 801.9L2156.31 806.94L2158.42 811.89L2160.54 816.74L2162.65 821.5L2164.77 826.16L2166.88 830.72L2168.99 835.18L2171.11 839.56L2173.22 843.84L2175.33 848.04L2177.45 852.16L2179.56 856.2L2181.68 860.17L2183.79 864.08L2185.9 867.92L2188.02 871.7L2190.13 875.42L2192.24 879.1L2194.36 882.73L2196.47 886.31L2198.59 889.85L2200.7 893.36L2202.81 896.83L2204.93 900.24L2207.04 903.59L2209.15 906.86L2211.27 910.04L2213.38 913.12L2215.49 916.08L2217.61 918.92L2219.72 921.62L2221.84 924.17L2223.95 926.56L2226.06 928.78L2228.18 930.81L2230.29 932.64L2232.4 934.26L2234.52 935.67" stroke-width="4.4" stroke-linecap="butt" stroke-dasharray="14.28 15.68" stroke-dashoffset="0"/>
<path d="M1397.48 934.01L1399.6 932.29L1401.71 930.51L1403.82 928.68L1405.94 926.79L1408.05 924.85L1410.16 922.85L1412.28 920.8L1414.39 918.69L1416.51 916.53L1418.62 914.31L1420.73 912.04L1422.85 909.71L1424.96 907.33L1427.07 904.9L1429.19 902.4L1431.3 899.86L1433.41 897.26L1435.53 894.6L1437.64 891.89L1439.76 889.13L1441.87 886.32L1443.98 883.45L1446.1 880.53L1448.21 877.55L1450.32 874.53L1452.44 871.45L1454.55 868.32L1456.67 865.15L1458.78 861.92L1460.89 858.64L1463.01 855.32L1465.12 851.94L1467.23 848.52L1469.35 845.05L1471.46 841.53L1473.58 837.96L1475.69 834.36L1477.8 830.72L1479.92 827.06L1482.03 823.38L1484.14 819.67L1486.26 815.96L1488.37 812.24L1490.49 808.53L1492.6 804.82L1494.71 801.12L1496.83 797.44L1498.94 793.79L1501.05 790.16L1503.17 786.57L1505.28 783.02L1507.4 779.52L1509.51 776.07L1511.62 772.67L1513.74 769.32L1515.85 766.03L1517.96 762.8L1520.08 759.62L1522.19 756.5L1524.31 753.45L1526.42 750.45L1528.53 747.52L1530.65 744.66L1532.76 741.85L1534.87 739.12L1536.99 736.45L1539.1 733.86L1541.22 731.33L1543.33 728.88L1545.44 726.5L1547.56 724.2L1549.67 721.97L1551.78 719.82L1553.9 717.75L1556.01 715.76L1558.12 713.85L1560.24 712.02L1562.35 710.27L1564.47 708.61L1566.58 707.04L1568.69 705.55L1570.81 704.16L1572.92 702.85L1575.03 701.63L1577.15 700.51L1579.26 699.48L1581.38 698.55L1583.49 697.71L1585.6 696.96L1587.72 696.32L1589.83 695.77L1591.94 695.32L1594.06 694.96L1596.17 694.7L1598.29 694.54L1600.4 694.48L1602.51 694.52L1604.63 694.66L1606.74 694.9L1608.85 695.23L1610.97 695.67L1613.08 696.21L1615.2 696.85L1617.31 697.59L1619.42 698.43L1621.54 699.37L1623.65 700.42L1625.76 701.56L1627.88 702.81L1629.99 704.15L1632.11 705.59L1634.22 707.14L1636.33 708.78L1638.45 710.51L1640.56 712.35L1642.67 714.29L1644.79 716.32L1646.9 718.44L1649.02 720.67L1651.13 722.99L1653.24 725.41L1655.36 727.92L1657.47 730.52L1659.58 733.21L1661.7 735.99L1663.81 738.86L1665.93 741.8L1668.04 744.83L1670.15 747.93L1672.27 751.11L1674.38 754.35L1676.49 757.67L1678.61 761.05L1680.72 764.5L1682.84 768L1684.95 771.56L1687.06 775.18L1689.18 778.86L1691.29 782.58L1693.4 786.35L1695.52 790.15L1697.63 793.99L1699.74 797.86L1701.86 801.75L1703.97 805.66L1706.09 809.57L1708.2 813.49L1710.31 817.42L1712.43 821.33L1714.54 825.24L1716.65 829.12L1718.77 832.99L1720.88 836.82L1723 840.62L1725.11 844.38L1727.22 848.1L1729.34 851.77L1731.45 855.38L1733.56 858.95L1735.68 862.47L1737.79 865.92L1739.91 869.33L1742.02 872.67L1744.13 875.96L1746.25 879.19L1748.36 882.35L1750.47 885.45L1752.59 888.48L1754.7 891.45L1756.82 894.34L1758.93 897.17L1761.04 899.93L1763.16 902.61L1765.27 905.21L1767.38 907.73L1769.5 910.17L1771.61 912.51L1773.73 914.77L1775.84 916.92L1777.95 918.97L1780.07 920.92L1782.18 922.75L1784.29 924.47L1786.41 926.06L1788.52 927.54L1790.64 928.88L1792.75 930.1L1794.86 931.17L1796.98 932.1L1799.09 932.89L1801.2 933.53L1803.32 934.03L1805.43 934.38L1807.55 934.59L1809.66 934.66L1811.77 934.6L1813.89 934.4L1816 934.07L1818.11 933.61L1820.23 933.02L1822.34 932.31L1824.45 931.47L1826.57 930.52L1828.68 929.44L1830.8 928.25L1832.91 926.95L1835.02 925.53L1837.14 924.01L1839.25 922.38L1841.36 920.64L1843.48 918.79L1845.59 916.85L1847.71 914.79L1849.82 912.64L1851.93 910.38L1854.05 908.03L1856.16 905.58L1858.27 903.03L1860.39 900.38L1862.5 897.64L1864.62 894.8L1866.73 891.88L1868.84 888.86L1870.96 885.75L1873.07 882.55L1875.18 879.27L1877.3 875.9L1879.41 872.47L1881.53 868.96L1883.64 865.39L1885.75 861.77L1887.87 858.09L1889.98 854.36L1892.09 850.59L1894.21 846.78L1896.32 842.93L1898.44 839.06L1900.55 835.17L1902.66 831.26L1904.78 827.34L1906.89 823.41L1909 819.48L1911.12 815.55L1913.23 811.63L1915.35 807.71L1917.46 803.81L1919.57 799.93L1921.69 796.07L1923.8 792.23L1925.91 788.42L1928.03 784.64L1930.14 780.89L1932.26 777.18L1934.37 773.51L1936.48 769.89L1938.6 766.31L1940.71 762.79L1942.82 759.33L1944.94 755.92L1947.05 752.57L1949.16 749.29L1951.28 746.08L1953.39 742.95L1955.51 739.88L1957.62 736.9L1959.73 734.01L1961.85 731.19L1963.96 728.47L1966.07 725.84L1968.19 723.31L1970.3 720.88L1972.42 718.56L1974.53 716.34L1976.64 714.23L1978.76 712.24L1980.87 710.36L1982.98 708.6L1985.1 706.97L1987.21 705.45L1989.33 704.05L1991.44 702.77L1993.55 701.61L1995.67 700.56L1997.78 699.63L1999.89 698.82L2002.01 698.12L2004.12 697.53L2006.24 697.06L2008.35 696.7L2010.46 696.46L2012.58 696.32L2014.69 696.3L2016.8 696.39L2018.92 696.58L2021.03 696.89L2023.15 697.3L2025.26 697.81L2027.37 698.43L2029.49 699.14L2031.6 699.95L2033.71 700.86L2035.83 701.86L2037.94 702.96L2040.06 704.14L2042.17 705.41L2044.28 706.76L2046.4 708.19L2048.51 709.71L2050.62 711.31L2052.74 712.98L2054.85 714.72L2056.97 716.54L2059.08 718.43L2061.19 720.4L2063.31 722.43L2065.42 724.53L2067.53 726.7L2069.65 728.94L2071.76 731.25L2073.88 733.63L2075.99 736.06L2078.1 738.57L2080.22 741.14L2082.33 743.77L2084.44 746.46L2086.56 749.22L2088.67 752.03L2090.78 754.91L2092.9 757.84L2095.01 760.83L2097.13 763.86L2099.24 766.95L2101.35 770.07L2103.47 773.24L2105.58 776.44L2107.69 779.67L2109.81 782.93L2111.92 786.21L2114.04 789.52L2116.15 792.84L2118.26 796.17L2120.38 799.52L2122.49 802.86L2124.6 806.22L2126.72 809.56L2128.83 812.91L2130.95 816.24L2133.06 819.57L2135.17 822.89L2137.29 826.19L2139.4 829.48L2141.51 832.76L2143.63 836.02L2145.74 839.26L2147.86 842.48L2149.97 845.68L2152.08 848.86L2154.2 852.01L2156.31 855.13L2158.42 858.23L2160.54 861.29L2162.65 864.33L2164.77 867.33L2166.88 870.3L2168.99 873.23L2171.11 876.13L2173.22 878.99L2175.33 881.82L2177.45 884.6L2179.56 887.35L2181.68 890.06L2183.79 892.72L2185.9 895.35L2188.02 897.93L2190.13 900.47L2192.24 902.96L2194.36 905.41L2196.47 907.81L2198.59 910.17L2200.7 912.48L2202.81 914.73L2204.93 916.93L2207.04 919.05L2209.15 921.09L2211.27 923.05L2213.38 924.91L2215.49 926.67L2217.61 928.31L2219.72 929.83L2221.84 931.22L2223.95 932.48L2226.06 933.58L2228.18 934.54L2230.29 935.33L2232.4 935.94L2234.52 936.38" stroke-width="4.4" stroke-linecap="butt" stroke-dasharray="3.04 11.93 14.28 11.93" stroke-dashoffset="0"/>
</g>
<g fill="#000" font-family='"Liberation Sans", "DejaVu Sans", sans-serif' font-size="29.7">
<text x="1389.03" y="1145" text-anchor="middle">0.0</text>
<text x="1558.12" y="1145" text-anchor="middle">0.2</text>
<text x="1727.22" y="1145" text-anchor="middle">0.4</text>
<text x="1896.32" y="1145" text-anchor="middle">0.6</text>
<text x="2065.42" y="1145" text-anchor="middle">0.8</text>
<text x="2234.52" y="1145" text-anchor="middle">1.0</text>
<text transform="translate(1321.1 1043.96) rotate(-90)" text-anchor="middle">0</text>
<text transform="translate(1321.1 893.81) rotate(-90)" text-anchor="middle">1</text>
<text transform="translate(1321.1 743.65) rotate(-90)" text-anchor="middle">2</text>
<text transform="translate(1321.1 593.5) rotate(-90)" text-anchor="middle">3</text>
<text transform="translate(1321.1 443.35) rotate(-90)" text-anchor="middle">4</text>
<text transform="translate(1321.1 293.19) rotate(-90)" text-anchor="middle">5</text>
<text transform="translate(1321.1 143.04) rotate(-90)" text-anchor="middle">6</text>
<text x="1815.7" y="1216.8" text-anchor="middle">u</text>
<text transform="translate(1241.3 593.8) rotate(-90)"><tspan x="-35.15" y="0" font-size="29.7">σ</tspan><tspan x="-17.57" y="-15.9" font-size="21.3">2</tspan><tspan x="-5.86" y="-0.3" font-size="36.5" stroke="#fff" stroke-width="1.1" paint-order="fill stroke">(</tspan><tspan x="7.07" y="0" font-size="29.7">u</tspan><tspan x="24.09" y="-0.3" font-size="36.5" stroke="#fff" stroke-width="1.1" paint-order="fill stroke">)</tspan></text>
</g>
<g fill="#000" font-family='"Liberation Sans", "DejaVu Sans", sans-serif' font-size="34.7">
<text><tspan x="1719.13" y="46.5">c</tspan> <tspan x="1744.45" y="47.53" font-size="37.82">=</tspan> <tspan x="1771.65" y="46.5">2</tspan>  <tspan x="1810.46" y="46.5">k</tspan> <tspan x="1834.95" y="47.53" font-size="37.82">=</tspan> <tspan x="1862.54" y="46.5">0.4</tspan></text>
</g>
</g>
<g>
<g fill="none" stroke="#000" stroke-width="2" stroke-linecap="butt" shape-rendering="crispEdges">
<path d="M205.12 2329V2348M374.83 2329V2348M544.55 2329V2348M714.26 2329V2348M883.98 2329V2348M1053.7 2329V2348M180 2292.78H161M180 2066.39H161M180 1840H161M180 1613.61H161M180 1387.22H161" stroke-width="2"/>
<rect x="180" y="1351" width="907.3" height="978"/>
</g>
<g fill="none" stroke="#000" stroke-linejoin="round">
<path d="M213.6 2281.46L215.73 2281.28L217.85 2280.74L219.97 2279.85L222.09 2278.6L224.21 2277L226.33 2275.04L228.45 2272.73L230.58 2270.08L232.7 2267.08L234.82 2263.73L236.94 2260.04L239.06 2256.02L241.18 2251.67L243.3 2246.98L245.43 2241.98L247.55 2236.65L249.67 2231.02L251.79 2225.07L253.91 2218.82L256.03 2212.28L258.15 2205.45L260.28 2198.33L262.4 2190.94L264.52 2183.28L266.64 2175.37L268.76 2167.19L270.88 2158.78L273 2150.13L275.13 2141.24L277.25 2132.14L279.37 2122.84L281.49 2113.32L283.61 2103.62L285.73 2093.74L287.85 2083.68L289.98 2073.46L292.1 2063.09L294.22 2052.58L296.34 2041.93L298.46 2031.17L300.58 2020.29L302.7 2009.32L304.83 1998.25L306.95 1987.11L309.07 1975.9L311.19 1964.63L313.31 1953.32L315.43 1941.98L317.55 1930.61L319.68 1919.24L321.8 1907.86L323.92 1896.49L326.04 1885.15L328.16 1873.84L330.28 1862.57L332.4 1851.36L334.53 1840.22L336.65 1829.16L338.77 1818.18L340.89 1807.3L343.01 1796.54L345.13 1785.89L347.25 1775.38L349.38 1765.01L351.5 1754.79L353.62 1744.73L355.74 1734.85L357.86 1725.15L359.98 1715.64L362.1 1706.33L364.23 1697.23L366.35 1688.35L368.47 1679.69L370.59 1671.28L372.71 1663.11L374.83 1655.19L376.96 1647.53L379.08 1640.14L381.2 1633.02L383.32 1626.19L385.44 1619.65L387.56 1613.4L389.68 1607.46L391.81 1601.82L393.93 1596.49L396.05 1591.49L398.17 1586.8L400.29 1582.45L402.41 1578.43L404.53 1574.74L406.66 1571.4L408.78 1568.39L410.9 1565.74L413.02 1563.43L415.14 1561.47L417.26 1559.87L419.38 1558.62L421.51 1557.73L423.63 1557.19L425.75 1557.01L427.87 1557.19L429.99 1557.73L432.11 1558.62L434.23 1559.87L436.36 1561.47L438.48 1563.43L440.6 1565.74L442.72 1568.39L444.84 1571.4L446.96 1574.74L449.08 1578.43L451.21 1582.45L453.33 1586.8L455.45 1591.49L457.57 1596.49L459.69 1601.82L461.81 1607.46L463.93 1613.4L466.06 1619.65L468.18 1626.19L470.3 1633.02L472.42 1640.14L474.54 1647.53L476.66 1655.19L478.78 1663.11L480.91 1671.28L483.03 1679.69L485.15 1688.35L487.27 1697.23L489.39 1706.33L491.51 1715.64L493.63 1725.15L495.76 1734.85L497.88 1744.73L500 1754.79L502.12 1765.01L504.24 1775.38L506.36 1785.89L508.48 1796.54L510.61 1807.3L512.73 1818.18L514.85 1829.16L516.97 1840.22L519.09 1851.36L521.21 1862.57L523.33 1873.84L525.46 1885.15L527.58 1896.49L529.7 1907.86L531.82 1919.24L533.94 1930.61L536.06 1941.98L538.18 1953.32L540.31 1964.63L542.43 1975.9L544.55 1987.11L546.67 1998.25L548.79 2009.32L550.91 2020.29L553.04 2031.17L555.16 2041.93L557.28 2052.58L559.4 2063.09L561.52 2073.46L563.64 2083.68L565.76 2093.74L567.89 2103.62L570.01 2113.32L572.13 2122.84L574.25 2132.14L576.37 2141.24L578.49 2150.13L580.61 2158.78L582.74 2167.19L584.86 2175.37L586.98 2183.28L589.1 2190.94L591.22 2198.33L593.34 2205.45L595.46 2212.28L597.59 2218.82L599.71 2225.07L601.83 2231.02L603.95 2236.65L606.07 2241.98L608.19 2246.98L610.31 2251.67L612.44 2256.02L614.56 2260.04L616.68 2263.73L618.8 2267.08L620.92 2270.08L623.04 2272.73L625.16 2275.04L627.29 2277L629.41 2278.6L631.53 2279.85L633.65 2280.74L635.77 2281.28L637.89 2281.46L640.01 2281.28L642.14 2280.74L644.26 2279.85L646.38 2278.6L648.5 2277L650.62 2275.04L652.74 2272.73L654.86 2270.08L656.99 2267.08L659.11 2263.73L661.23 2260.04L663.35 2256.02L665.47 2251.67L667.59 2246.98L669.71 2241.98L671.84 2236.65L673.96 2231.02L676.08 2225.07L678.2 2218.82L680.32 2212.28L682.44 2205.45L684.56 2198.33L686.69 2190.94L688.81 2183.28L690.93 2175.37L693.05 2167.19L695.17 2158.78L697.29 2150.13L699.41 2141.24L701.54 2132.14L703.66 2122.84L705.78 2113.32L707.9 2103.62L710.02 2093.74L712.14 2083.68L714.26 2073.46L716.39 2063.09L718.51 2052.58L720.63 2041.93L722.75 2031.17L724.87 2020.29L726.99 2009.32L729.12 1998.25L731.24 1987.11L733.36 1975.9L735.48 1964.63L737.6 1953.32L739.72 1941.98L741.84 1930.61L743.97 1919.24L746.09 1907.86L748.21 1896.49L750.33 1885.15L752.45 1873.84L754.57 1862.57L756.69 1851.36L758.82 1840.22L760.94 1829.16L763.06 1818.18L765.18 1807.3L767.3 1796.54L769.42 1785.89L771.54 1775.38L773.67 1765.01L775.79 1754.79L777.91 1744.73L780.03 1734.85L782.15 1725.15L784.27 1715.64L786.39 1706.33L788.52 1697.23L790.64 1688.35L792.76 1679.69L794.88 1671.28L797 1663.11L799.12 1655.19L801.24 1647.53L803.37 1640.14L805.49 1633.02L807.61 1626.19L809.73 1619.65L811.85 1613.4L813.97 1607.46L816.09 1601.82L818.22 1596.49L820.34 1591.49L822.46 1586.8L824.58 1582.45L826.7 1578.43L828.82 1574.74L830.94 1571.4L833.07 1568.39L835.19 1565.74L837.31 1563.43L839.43 1561.47L841.55 1559.87L843.67 1558.62L845.79 1557.73L847.92 1557.19L850.04 1557.01L852.16 1557.19L854.28 1557.73L856.4 1558.62L858.52 1559.87L860.64 1561.47L862.77 1563.43L864.89 1565.74L867.01 1568.39L869.13 1571.4L871.25 1574.74L873.37 1578.43L875.49 1582.45L877.62 1586.8L879.74 1591.49L881.86 1596.49L883.98 1601.82L886.1 1607.46L888.22 1613.4L890.34 1619.65L892.47 1626.19L894.59 1633.02L896.71 1640.14L898.83 1647.53L900.95 1655.19L903.07 1663.11L905.2 1671.28L907.32 1679.69L909.44 1688.35L911.56 1697.23L913.68 1706.33L915.8 1715.64L917.92 1725.15L920.05 1734.85L922.17 1744.73L924.29 1754.79L926.41 1765.01L928.53 1775.38L930.65 1785.89L932.77 1796.54L934.9 1807.3L937.02 1818.18L939.14 1829.16L941.26 1840.22L943.38 1851.36L945.5 1862.57L947.62 1873.84L949.75 1885.15L951.87 1896.49L953.99 1907.86L956.11 1919.24L958.23 1930.61L960.35 1941.98L962.47 1953.32L964.6 1964.63L966.72 1975.9L968.84 1987.11L970.96 1998.25L973.08 2009.32L975.2 2020.29L977.32 2031.17L979.45 2041.93L981.57 2052.58L983.69 2063.09L985.81 2073.46L987.93 2083.68L990.05 2093.74L992.17 2103.62L994.3 2113.32L996.42 2122.84L998.54 2132.14L1000.66 2141.24L1002.78 2150.13L1004.9 2158.78L1007.02 2167.19L1009.15 2175.37L1011.27 2183.28L1013.39 2190.94L1015.51 2198.33L1017.63 2205.45L1019.75 2212.28L1021.87 2218.82L1024 2225.07L1026.12 2231.02L1028.24 2236.65L1030.36 2241.98L1032.48 2246.98L1034.6 2251.67L1036.72 2256.02L1038.85 2260.04L1040.97 2263.73L1043.09 2267.08L1045.21 2270.08L1047.33 2272.73L1049.45 2275.04L1051.57 2277L1053.7 2278.6" stroke-width="4.7" stroke-linecap="round"/>
<path d="M213.6 2177.01L215.73 2174.27L217.85 2171.38L219.97 2168.35L222.09 2165.17L224.21 2161.86L226.33 2158.4L228.45 2154.81L230.58 2151.07L232.7 2147.2L234.82 2143.19L236.94 2139.05L239.06 2134.77L241.18 2130.35L243.3 2125.8L245.43 2121.12L247.55 2116.31L249.67 2111.36L251.79 2106.29L253.91 2101.08L256.03 2095.73L258.15 2090.25L260.28 2084.62L262.4 2078.85L264.52 2072.93L266.64 2066.85L268.76 2060.63L270.88 2054.24L273 2047.7L275.13 2040.99L277.25 2034.12L279.37 2027.07L281.49 2019.86L283.61 2012.47L285.73 2004.9L287.85 1997.15L289.98 1989.22L292.1 1981.14L294.22 1972.91L296.34 1964.54L298.46 1956.05L300.58 1947.45L302.7 1938.75L304.83 1929.96L306.95 1921.09L309.07 1912.17L311.19 1903.19L313.31 1894.17L315.43 1885.13L317.55 1876.08L319.68 1867.03L321.8 1857.98L323.92 1848.96L326.04 1839.98L328.16 1831.04L330.28 1822.16L332.4 1813.34L334.53 1804.6L336.65 1795.95L338.77 1787.39L340.89 1778.94L343.01 1770.61L345.13 1762.41L347.25 1754.35L349.38 1746.44L351.5 1738.69L353.62 1731.11L355.74 1723.71L357.86 1716.5L359.98 1709.49L362.1 1702.69L364.23 1696.12L366.35 1689.76L368.47 1683.63L370.59 1677.74L372.71 1672.09L374.83 1666.69L376.96 1661.54L379.08 1656.64L381.2 1652.01L383.32 1647.65L385.44 1643.57L387.56 1639.77L389.68 1636.26L391.81 1633.04L393.93 1630.12L396.05 1627.51L398.17 1625.21L400.29 1623.21L402.41 1621.53L404.53 1620.14L406.66 1619.07L408.78 1618.29L410.9 1617.81L413.02 1617.63L415.14 1617.74L417.26 1618.14L419.38 1618.83L421.51 1619.81L423.63 1621.08L425.75 1622.63L427.87 1624.46L429.99 1626.57L432.11 1628.95L434.23 1631.61L436.36 1634.54L438.48 1637.74L440.6 1641.2L442.72 1644.92L444.84 1648.89L446.96 1653.11L449.08 1657.57L451.21 1662.28L453.33 1667.23L455.45 1672.4L457.57 1677.81L459.69 1683.44L461.81 1689.29L463.93 1695.35L466.06 1701.63L468.18 1708.12L470.3 1714.8L472.42 1721.69L474.54 1728.76L476.66 1736.01L478.78 1743.42L480.91 1750.98L483.03 1758.7L485.15 1766.55L487.27 1774.52L489.39 1782.61L491.51 1790.8L493.63 1799.09L495.76 1807.46L497.88 1815.9L500 1824.42L502.12 1832.98L504.24 1841.59L506.36 1850.23L508.48 1858.9L510.61 1867.58L512.73 1876.29L514.85 1885L516.97 1893.72L519.09 1902.43L521.21 1911.15L523.33 1919.85L525.46 1928.54L527.58 1937.21L529.7 1945.85L531.82 1954.47L533.94 1963.05L536.06 1971.59L538.18 1980.09L540.31 1988.53L542.43 1996.93L544.55 2005.26L546.67 2013.52L548.79 2021.7L550.91 2029.79L553.04 2037.76L555.16 2045.62L557.28 2053.35L559.4 2060.94L561.52 2068.37L563.64 2075.63L565.76 2082.72L567.89 2089.62L570.01 2096.31L572.13 2102.8L574.25 2109.05L576.37 2115.07L578.49 2120.84L580.61 2126.36L582.74 2131.61L584.86 2136.6L586.98 2141.35L589.1 2145.85L591.22 2150.12L593.34 2154.15L595.46 2157.96L597.59 2161.54L599.71 2164.9L601.83 2168.05L603.95 2171L606.07 2173.74L608.19 2176.29L610.31 2178.64L612.44 2180.82L614.56 2182.81L616.68 2184.62L618.8 2186.26L620.92 2187.71L623.04 2188.97L625.16 2190.03L627.29 2190.87L629.41 2191.5L631.53 2191.89L633.65 2192.05L635.77 2191.95L637.89 2191.61L640.01 2190.99L642.14 2190.11L644.26 2188.94L646.38 2187.48L648.5 2185.73L650.62 2183.66L652.74 2181.28L654.86 2178.57L656.99 2175.56L659.11 2172.25L661.23 2168.65L663.35 2164.77L665.47 2160.63L667.59 2156.23L669.71 2151.59L671.84 2146.71L673.96 2141.61L676.08 2136.3L678.2 2130.79L680.32 2125.08L682.44 2119.2L684.56 2113.15L686.69 2106.94L688.81 2100.59L690.93 2094.1L693.05 2087.48L695.17 2080.73L697.29 2073.86L699.41 2066.88L701.54 2059.79L703.66 2052.59L705.78 2045.29L707.9 2037.9L710.02 2030.42L712.14 2022.85L714.26 2015.21L716.39 2007.49L718.51 1999.7L720.63 1991.84L722.75 1983.93L724.87 1975.97L726.99 1967.95L729.12 1959.9L731.24 1951.82L733.36 1943.71L735.48 1935.59L737.6 1927.46L739.72 1919.34L741.84 1911.24L743.97 1903.16L746.09 1895.11L748.21 1887.1L750.33 1879.14L752.45 1871.24L754.57 1863.41L756.69 1855.66L758.82 1848L760.94 1840.43L763.06 1832.96L765.18 1825.61L767.3 1818.38L769.42 1811.27L771.54 1804.3L773.67 1797.46L775.79 1790.77L777.91 1784.23L780.03 1777.86L782.15 1771.64L784.27 1765.61L786.39 1759.75L788.52 1754.07L790.64 1748.59L792.76 1743.31L794.88 1738.23L797 1733.36L799.12 1728.72L801.24 1724.29L803.37 1720.1L805.49 1716.12L807.61 1712.37L809.73 1708.85L811.85 1705.55L813.97 1702.48L816.09 1699.64L818.22 1697.02L820.34 1694.63L822.46 1692.46L824.58 1690.53L826.7 1688.82L828.82 1687.35L830.94 1686.1L833.07 1685.08L835.19 1684.29L837.31 1683.74L839.43 1683.41L841.55 1683.32L843.67 1683.46L845.79 1683.83L847.92 1684.44L850.04 1685.28L852.16 1686.36L854.28 1687.68L856.4 1689.23L858.52 1691.03L860.64 1693.06L862.77 1695.34L864.89 1697.85L867.01 1700.61L869.13 1703.61L871.25 1706.86L873.37 1710.35L875.49 1714.07L877.62 1718.03L879.74 1722.22L881.86 1726.61L883.98 1731.22L886.1 1736.03L888.22 1741.02L890.34 1746.21L892.47 1751.56L894.59 1757.09L896.71 1762.78L898.83 1768.62L900.95 1774.61L903.07 1780.73L905.2 1786.99L907.32 1793.37L909.44 1799.86L911.56 1806.46L913.68 1813.16L915.8 1819.96L917.92 1826.86L920.05 1833.84L922.17 1840.91L924.29 1848.06L926.41 1855.29L928.53 1862.58L930.65 1869.94L932.77 1877.36L934.9 1884.84L937.02 1892.36L939.14 1899.94L941.26 1907.55L943.38 1915.2L945.5 1922.89L947.62 1930.6L949.75 1938.32L951.87 1946.04L953.99 1953.75L956.11 1961.44L958.23 1969.1L960.35 1976.71L962.47 1984.25L964.6 1991.73L966.72 1999.13L968.84 2006.42L970.96 2013.62L973.08 2020.69L975.2 2027.63L977.32 2034.43L979.45 2041.07L981.57 2047.54L983.69 2053.84L985.81 2059.97L987.93 2065.93L990.05 2071.74L992.17 2077.39L994.3 2082.91L996.42 2088.28L998.54 2093.52L1000.66 2098.65L1002.78 2103.65L1004.9 2108.55L1007.02 2113.35L1009.15 2118.05L1011.27 2122.66L1013.39 2127.19L1015.51 2131.65L1017.63 2136.04L1019.75 2140.37L1021.87 2144.63L1024 2148.81L1026.12 2152.9L1028.24 2156.88L1030.36 2160.75L1032.48 2164.48L1034.6 2168.07L1036.72 2171.51L1038.85 2174.79L1040.97 2177.88L1043.09 2180.79L1045.21 2183.49L1047.33 2185.98L1049.45 2188.24L1051.57 2190.26L1053.7 2192.03" stroke-width="4.4" stroke-linecap="butt" stroke-dasharray="14.28 15.68" stroke-dashoffset="0"/>
<path d="M213.6 2178.24L215.73 2176.72L217.85 2175.13L219.97 2173.48L222.09 2171.76L224.21 2169.97L226.33 2168.11L228.45 2166.16L230.58 2164.14L232.7 2162.03L234.82 2159.84L236.94 2157.56L239.06 2155.18L241.18 2152.71L243.3 2150.14L245.43 2147.47L247.55 2144.7L249.67 2141.82L251.79 2138.83L253.91 2135.74L256.03 2132.54L258.15 2129.24L260.28 2125.85L262.4 2122.36L264.52 2118.78L266.64 2115.12L268.76 2111.38L270.88 2107.56L273 2103.66L275.13 2099.69L277.25 2095.65L279.37 2091.55L281.49 2087.39L283.61 2083.16L285.73 2078.89L287.85 2074.56L289.98 2070.19L292.1 2065.77L294.22 2061.3L296.34 2056.79L298.46 2052.25L300.58 2047.66L302.7 2043.04L304.83 2038.39L306.95 2033.71L309.07 2028.99L311.19 2024.25L313.31 2019.49L315.43 2014.7L317.55 2009.89L319.68 2005.07L321.8 2000.23L323.92 1995.37L326.04 1990.51L328.16 1985.65L330.28 1980.8L332.4 1975.97L334.53 1971.18L336.65 1966.42L338.77 1961.72L340.89 1957.09L343.01 1952.52L345.13 1948.04L347.25 1943.65L349.38 1939.36L351.5 1935.18L353.62 1931.12L355.74 1927.2L357.86 1923.42L359.98 1919.79L362.1 1916.32L364.23 1913.01L366.35 1909.86L368.47 1906.86L370.59 1904.02L372.71 1901.34L374.83 1898.8L376.96 1896.42L379.08 1894.2L381.2 1892.12L383.32 1890.19L385.44 1888.41L387.56 1886.77L389.68 1885.29L391.81 1883.95L393.93 1882.75L396.05 1881.69L398.17 1880.78L400.29 1880.01L402.41 1879.38L404.53 1878.9L406.66 1878.55L408.78 1878.35L410.9 1878.29L413.02 1878.36L415.14 1878.58L417.26 1878.94L419.38 1879.44L421.51 1880.08L423.63 1880.85L425.75 1881.77L427.87 1882.83L429.99 1884.02L432.11 1885.35L434.23 1886.83L436.36 1888.43L438.48 1890.18L440.6 1892.05L442.72 1894.05L444.84 1896.18L446.96 1898.43L449.08 1900.81L451.21 1903.3L453.33 1905.91L455.45 1908.63L457.57 1911.46L459.69 1914.41L461.81 1917.45L463.93 1920.61L466.06 1923.86L468.18 1927.21L470.3 1930.65L472.42 1934.19L474.54 1937.82L476.66 1941.54L478.78 1945.34L480.91 1949.22L483.03 1953.17L485.15 1957.2L487.27 1961.3L489.39 1965.47L491.51 1969.7L493.63 1973.99L495.76 1978.34L497.88 1982.75L500 1987.2L502.12 1991.71L504.24 1996.26L506.36 2000.85L508.48 2005.48L510.61 2010.14L512.73 2014.83L514.85 2019.54L516.97 2024.28L519.09 2029.03L521.21 2033.79L523.33 2038.56L525.46 2043.33L527.58 2048.1L529.7 2052.86L531.82 2057.6L533.94 2062.34L536.06 2067.05L538.18 2071.73L540.31 2076.38L542.43 2081L544.55 2085.59L546.67 2090.12L548.79 2094.61L550.91 2099.05L553.04 2103.43L555.16 2107.75L557.28 2112L559.4 2116.18L561.52 2120.29L563.64 2124.31L565.76 2128.26L567.89 2132.11L570.01 2135.88L572.13 2139.54L574.25 2143.1L576.37 2146.56L578.49 2149.91L580.61 2153.14L582.74 2156.25L584.86 2159.24L586.98 2162.11L589.1 2164.85L591.22 2167.47L593.34 2169.95L595.46 2172.3L597.59 2174.52L599.71 2176.59L601.83 2178.53L603.95 2180.32L606.07 2181.97L608.19 2183.46L610.31 2184.81L612.44 2186L614.56 2187.04L616.68 2187.92L618.8 2188.63L620.92 2189.19L623.04 2189.6L625.16 2189.85L627.29 2189.94L629.41 2189.88L631.53 2189.67L633.65 2189.31L635.77 2188.79L637.89 2188.13L640.01 2187.33L642.14 2186.37L644.26 2185.27L646.38 2184.03L648.5 2182.65L650.62 2181.12L652.74 2179.46L654.86 2177.66L656.99 2175.72L659.11 2173.64L661.23 2171.43L663.35 2169.09L665.47 2166.63L667.59 2164.03L669.71 2161.3L671.84 2158.46L673.96 2155.49L676.08 2152.39L678.2 2149.18L680.32 2145.85L682.44 2142.41L684.56 2138.85L686.69 2135.18L688.81 2131.39L690.93 2127.5L693.05 2123.51L695.17 2119.42L697.29 2115.23L699.41 2110.96L701.54 2106.61L703.66 2102.18L705.78 2097.68L707.9 2093.11L710.02 2088.49L712.14 2083.81L714.26 2079.09L716.39 2074.32L718.51 2069.51L720.63 2064.67L722.75 2059.81L724.87 2054.92L726.99 2050.02L729.12 2045.11L731.24 2040.19L733.36 2035.28L735.48 2030.38L737.6 2025.48L739.72 2020.61L741.84 2015.76L743.97 2010.95L746.09 2006.17L748.21 2001.43L750.33 1996.74L752.45 1992.1L754.57 1987.53L756.69 1983.02L758.82 1978.58L760.94 1974.22L763.06 1969.94L765.18 1965.74L767.3 1961.64L769.42 1957.62L771.54 1953.69L773.67 1949.85L775.79 1946.1L777.91 1942.44L780.03 1938.86L782.15 1935.39L784.27 1932L786.39 1928.7L788.52 1925.5L790.64 1922.4L792.76 1919.39L794.88 1916.47L797 1913.65L799.12 1910.93L801.24 1908.31L803.37 1905.78L805.49 1903.36L807.61 1901.05L809.73 1898.83L811.85 1896.73L813.97 1894.74L816.09 1892.86L818.22 1891.1L820.34 1889.45L822.46 1887.92L824.58 1886.52L826.7 1885.23L828.82 1884.07L830.94 1883.04L833.07 1882.14L835.19 1881.37L837.31 1880.73L839.43 1880.23L841.55 1879.86L843.67 1879.63L845.79 1879.53L847.92 1879.57L850.04 1879.75L852.16 1880.07L854.28 1880.53L856.4 1881.12L858.52 1881.86L860.64 1882.73L862.77 1883.75L864.89 1884.91L867.01 1886.22L869.13 1887.66L871.25 1889.25L873.37 1890.99L875.49 1892.87L877.62 1894.89L879.74 1897.05L881.86 1899.35L883.98 1901.78L886.1 1904.35L888.22 1907.04L890.34 1909.87L892.47 1912.82L894.59 1915.89L896.71 1919.09L898.83 1922.4L900.95 1925.83L903.07 1929.38L905.2 1933.04L907.32 1936.81L909.44 1940.69L911.56 1944.67L913.68 1948.75L915.8 1952.92L917.92 1957.18L920.05 1961.53L922.17 1965.94L924.29 1970.43L926.41 1974.98L928.53 1979.58L930.65 1984.24L932.77 1988.95L934.9 1993.69L937.02 1998.47L939.14 2003.28L941.26 2008.11L943.38 2012.96L945.5 2017.82L947.62 2022.68L949.75 2027.55L951.87 2032.41L953.99 2037.26L956.11 2042.1L958.23 2046.92L960.35 2051.72L962.47 2056.49L964.6 2061.22L966.72 2065.92L968.84 2070.58L970.96 2075.19L973.08 2079.74L975.2 2084.24L977.32 2088.68L979.45 2093.05L981.57 2097.35L983.69 2101.58L985.81 2105.73L987.93 2109.8L990.05 2113.79L992.17 2117.7L994.3 2121.53L996.42 2125.28L998.54 2128.94L1000.66 2132.52L1002.78 2136.02L1004.9 2139.43L1007.02 2142.75L1009.15 2145.98L1011.27 2149.12L1013.39 2152.17L1015.51 2155.13L1017.63 2158L1019.75 2160.77L1021.87 2163.45L1024 2166.04L1026.12 2168.54L1028.24 2170.95L1030.36 2173.28L1032.48 2175.53L1034.6 2177.69L1036.72 2179.78L1038.85 2181.78L1040.97 2183.71L1043.09 2185.57L1045.21 2187.36L1047.33 2189.07L1049.45 2190.72L1051.57 2192.3L1053.7 2193.82" stroke-width="4.4" stroke-linecap="butt" stroke-dasharray="3.04 11.93 14.28 11.93" stroke-dashoffset="0"/>
</g>
<g fill="#000" font-family='"Liberation Sans", "DejaVu Sans", sans-serif' font-size="29.7">
<text x="205.12" y="2393.4" text-anchor="middle">0.0</text>
<text x="374.83" y="2393.4" text-anchor="middle">0.2</text>
<text x="544.55" y="2393.4" text-anchor="middle">0.4</text>
<text x="714.26" y="2393.4" text-anchor="middle">0.6</text>
<text x="883.98" y="2393.4" text-anchor="middle">0.8</text>
<text x="1053.7" y="2393.4" text-anchor="middle">1.0</text>
<text transform="translate(135.9 2292.78) rotate(-90)" text-anchor="middle">0</text>
<text transform="translate(135.9 2066.39) rotate(-90)" text-anchor="middle">5</text>
<text transform="translate(135.9 1840) rotate(-90)" text-anchor="middle">10</text>
<text transform="translate(135.9 1613.61) rotate(-90)" text-anchor="middle">15</text>
<text transform="translate(135.9 1387.22) rotate(-90)" text-anchor="middle">20</text>
<text x="633.6" y="2466.9" text-anchor="middle">u</text>
<text transform="translate(57.3 1840.7) rotate(-90)"><tspan x="-35.15" y="0" font-size="29.7">σ</tspan><tspan x="-17.57" y="-15.9" font-size="21.3">2</tspan><tspan x="-5.86" y="-0.3" font-size="36.5" stroke="#fff" stroke-width="1.1" paint-order="fill stroke">(</tspan><tspan x="7.07" y="0" font-size="29.7">u</tspan><tspan x="24.09" y="-0.3" font-size="36.5" stroke="#fff" stroke-width="1.1" paint-order="fill stroke">)</tspan></text>
</g>
<g fill="#000" font-family='"Liberation Sans", "DejaVu Sans", sans-serif' font-size="34.7">
<text><tspan x="536.23" y="1290.8">c</tspan> <tspan x="560.05" y="1291.83" font-size="37.82">=</tspan> <tspan x="589.9" y="1290.8">4</tspan>  <tspan x="628.36" y="1290.8">k</tspan> <tspan x="650.55" y="1291.83" font-size="37.82">=</tspan> <tspan x="680.24" y="1290.8">0.2</tspan></text>
</g>
</g>
<g>
<g fill="none" stroke="#000" stroke-width="2" stroke-linecap="butt" shape-rendering="crispEdges">
<path d="M1388.99 2332V2351M1557.8 2332V2351M1726.62 2332V2351M1895.44 2332V2351M2064.26 2332V2351M2233.07 2332V2351M1364 2295.96H1345M1364 2070.73H1345M1364 1845.5H1345M1364 1620.27H1345M1364 1395.04H1345" stroke-width="2"/>
<rect x="1364" y="1359" width="902.5" height="973"/>
</g>
<g fill="none" stroke="#000" stroke-linejoin="round">
<path d="M1397.43 2284.7L1399.54 2284.52L1401.65 2283.99L1403.76 2283.1L1405.87 2281.86L1407.98 2280.26L1410.09 2278.32L1412.2 2276.02L1414.31 2273.38L1416.42 2270.39L1418.53 2267.06L1420.64 2263.4L1422.75 2259.39L1424.86 2255.06L1426.97 2250.4L1429.08 2245.42L1431.19 2240.13L1433.3 2234.52L1435.41 2228.6L1437.52 2222.39L1439.63 2215.88L1441.74 2209.08L1443.85 2202L1445.96 2194.65L1448.07 2187.03L1450.18 2179.15L1452.29 2171.02L1454.4 2162.65L1456.51 2154.04L1458.62 2145.2L1460.73 2136.15L1462.84 2126.89L1464.95 2117.43L1467.06 2107.77L1469.17 2097.94L1471.28 2087.94L1473.39 2077.77L1475.5 2067.45L1477.61 2056.99L1479.72 2046.4L1481.83 2035.69L1483.95 2024.87L1486.06 2013.95L1488.17 2002.94L1490.28 1991.86L1492.39 1980.71L1494.5 1969.5L1496.61 1958.24L1498.72 1946.96L1500.83 1935.65L1502.94 1924.33L1505.05 1913.01L1507.16 1901.7L1509.27 1890.42L1511.38 1879.16L1513.49 1867.96L1515.6 1856.8L1517.71 1845.72L1519.82 1834.71L1521.93 1823.79L1524.04 1812.97L1526.15 1802.26L1528.26 1791.67L1530.37 1781.21L1532.48 1770.89L1534.59 1760.73L1536.7 1750.72L1538.81 1740.89L1540.92 1731.23L1543.03 1721.77L1545.14 1712.51L1547.25 1703.46L1549.36 1694.62L1551.47 1686.01L1553.58 1677.64L1555.69 1669.51L1557.8 1661.63L1559.91 1654.01L1562.02 1646.66L1564.13 1639.58L1566.24 1632.79L1568.35 1626.28L1570.46 1620.06L1572.57 1614.15L1574.68 1608.54L1576.79 1603.24L1578.91 1598.26L1581.02 1593.6L1583.13 1589.27L1585.24 1585.27L1587.35 1581.6L1589.46 1578.27L1591.57 1575.28L1593.68 1572.64L1595.79 1570.34L1597.9 1568.4L1600.01 1566.8L1602.12 1565.56L1604.23 1564.67L1606.34 1564.14L1608.45 1563.96L1610.56 1564.14L1612.67 1564.67L1614.78 1565.56L1616.89 1566.8L1619 1568.4L1621.11 1570.34L1623.22 1572.64L1625.33 1575.28L1627.44 1578.27L1629.55 1581.6L1631.66 1585.27L1633.77 1589.27L1635.88 1593.6L1637.99 1598.26L1640.1 1603.24L1642.21 1608.54L1644.32 1614.15L1646.43 1620.06L1648.54 1626.28L1650.65 1632.79L1652.76 1639.58L1654.87 1646.66L1656.98 1654.01L1659.09 1661.63L1661.2 1669.51L1663.31 1677.64L1665.42 1686.01L1667.53 1694.62L1669.64 1703.46L1671.75 1712.51L1673.87 1721.77L1675.98 1731.23L1678.09 1740.89L1680.2 1750.72L1682.31 1760.73L1684.42 1770.89L1686.53 1781.21L1688.64 1791.67L1690.75 1802.26L1692.86 1812.97L1694.97 1823.79L1697.08 1834.71L1699.19 1845.72L1701.3 1856.8L1703.41 1867.96L1705.52 1879.16L1707.63 1890.42L1709.74 1901.7L1711.85 1913.01L1713.96 1924.33L1716.07 1935.65L1718.18 1946.96L1720.29 1958.24L1722.4 1969.5L1724.51 1980.71L1726.62 1991.86L1728.73 2002.94L1730.84 2013.95L1732.95 2024.87L1735.06 2035.69L1737.17 2046.4L1739.28 2056.99L1741.39 2067.45L1743.5 2077.77L1745.61 2087.94L1747.72 2097.94L1749.83 2107.77L1751.94 2117.43L1754.05 2126.89L1756.16 2136.15L1758.27 2145.2L1760.38 2154.04L1762.49 2162.65L1764.6 2171.02L1766.71 2179.15L1768.83 2187.03L1770.94 2194.65L1773.05 2202L1775.16 2209.08L1777.27 2215.88L1779.38 2222.39L1781.49 2228.6L1783.6 2234.52L1785.71 2240.13L1787.82 2245.42L1789.93 2250.4L1792.04 2255.06L1794.15 2259.39L1796.26 2263.4L1798.37 2267.06L1800.48 2270.39L1802.59 2273.38L1804.7 2276.02L1806.81 2278.32L1808.92 2280.26L1811.03 2281.86L1813.14 2283.1L1815.25 2283.99L1817.36 2284.52L1819.47 2284.7L1821.58 2284.52L1823.69 2283.99L1825.8 2283.1L1827.91 2281.86L1830.02 2280.26L1832.13 2278.32L1834.24 2276.02L1836.35 2273.38L1838.46 2270.39L1840.57 2267.06L1842.68 2263.4L1844.79 2259.39L1846.9 2255.06L1849.01 2250.4L1851.12 2245.42L1853.23 2240.13L1855.34 2234.52L1857.45 2228.6L1859.56 2222.39L1861.67 2215.88L1863.79 2209.08L1865.9 2202L1868.01 2194.65L1870.12 2187.03L1872.23 2179.15L1874.34 2171.02L1876.45 2162.65L1878.56 2154.04L1880.67 2145.2L1882.78 2136.15L1884.89 2126.89L1887 2117.43L1889.11 2107.77L1891.22 2097.94L1893.33 2087.94L1895.44 2077.77L1897.55 2067.45L1899.66 2056.99L1901.77 2046.4L1903.88 2035.69L1905.99 2024.87L1908.1 2013.95L1910.21 2002.94L1912.32 1991.86L1914.43 1980.71L1916.54 1969.5L1918.65 1958.24L1920.76 1946.96L1922.87 1935.65L1924.98 1924.33L1927.09 1913.01L1929.2 1901.7L1931.31 1890.42L1933.42 1879.16L1935.53 1867.96L1937.64 1856.8L1939.75 1845.72L1941.86 1834.71L1943.97 1823.79L1946.08 1812.97L1948.19 1802.26L1950.3 1791.67L1952.41 1781.21L1954.52 1770.89L1956.63 1760.73L1958.75 1750.72L1960.86 1740.89L1962.97 1731.23L1965.08 1721.77L1967.19 1712.51L1969.3 1703.46L1971.41 1694.62L1973.52 1686.01L1975.63 1677.64L1977.74 1669.51L1979.85 1661.63L1981.96 1654.01L1984.07 1646.66L1986.18 1639.58L1988.29 1632.79L1990.4 1626.28L1992.51 1620.06L1994.62 1614.15L1996.73 1608.54L1998.84 1603.24L2000.95 1598.26L2003.06 1593.6L2005.17 1589.27L2007.28 1585.27L2009.39 1581.6L2011.5 1578.27L2013.61 1575.28L2015.72 1572.64L2017.83 1570.34L2019.94 1568.4L2022.05 1566.8L2024.16 1565.56L2026.27 1564.67L2028.38 1564.14L2030.49 1563.96L2032.6 1564.14L2034.71 1564.67L2036.82 1565.56L2038.93 1566.8L2041.04 1568.4L2043.15 1570.34L2045.26 1572.64L2047.37 1575.28L2049.48 1578.27L2051.59 1581.6L2053.71 1585.27L2055.82 1589.27L2057.93 1593.6L2060.04 1598.26L2062.15 1603.24L2064.26 1608.54L2066.37 1614.15L2068.48 1620.06L2070.59 1626.28L2072.7 1632.79L2074.81 1639.58L2076.92 1646.66L2079.03 1654.01L2081.14 1661.63L2083.25 1669.51L2085.36 1677.64L2087.47 1686.01L2089.58 1694.62L2091.69 1703.46L2093.8 1712.51L2095.91 1721.77L2098.02 1731.23L2100.13 1740.89L2102.24 1750.72L2104.35 1760.73L2106.46 1770.89L2108.57 1781.21L2110.68 1791.67L2112.79 1802.26L2114.9 1812.97L2117.01 1823.79L2119.12 1834.71L2121.23 1845.72L2123.34 1856.8L2125.45 1867.96L2127.56 1879.16L2129.67 1890.42L2131.78 1901.7L2133.89 1913.01L2136 1924.33L2138.11 1935.65L2140.22 1946.96L2142.33 1958.24L2144.44 1969.5L2146.55 1980.71L2148.67 1991.86L2150.78 2002.94L2152.89 2013.95L2155 2024.87L2157.11 2035.69L2159.22 2046.4L2161.33 2056.99L2163.44 2067.45L2165.55 2077.77L2167.66 2087.94L2169.77 2097.94L2171.88 2107.77L2173.99 2117.43L2176.1 2126.89L2178.21 2136.15L2180.32 2145.2L2182.43 2154.04L2184.54 2162.65L2186.65 2171.02L2188.76 2179.15L2190.87 2187.03L2192.98 2194.65L2195.09 2202L2197.2 2209.08L2199.31 2215.88L2201.42 2222.39L2203.53 2228.6L2205.64 2234.52L2207.75 2240.13L2209.86 2245.42L2211.97 2250.4L2214.08 2255.06L2216.19 2259.39L2218.3 2263.4L2220.41 2267.06L2222.52 2270.39L2224.63 2273.38L2226.74 2276.02L2228.85 2278.32L2230.96 2280.26L2233.07 2281.86" stroke-width="4.7" stroke-linecap="round"/>
<path d="M1397.43 2167.61L1399.54 2164.22L1401.65 2160.73L1403.76 2157.12L1405.87 2153.4L1407.98 2149.56L1410.09 2145.58L1412.2 2141.48L1414.31 2137.24L1416.42 2132.85L1418.53 2128.31L1420.64 2123.62L1422.75 2118.77L1424.86 2113.76L1426.97 2108.57L1429.08 2103.21L1431.19 2097.67L1433.3 2091.95L1435.41 2086.03L1437.52 2079.92L1439.63 2073.63L1441.74 2067.15L1443.85 2060.49L1445.96 2053.64L1448.07 2046.61L1450.18 2039.39L1452.29 2032L1454.4 2024.43L1456.51 2016.68L1458.62 2008.75L1460.73 2000.64L1462.84 1992.36L1464.95 1983.91L1467.06 1975.28L1469.17 1966.48L1471.28 1957.51L1473.39 1948.38L1475.5 1939.08L1477.61 1929.61L1479.72 1919.98L1481.83 1910.2L1483.95 1900.26L1486.06 1890.17L1488.17 1879.93L1490.28 1869.54L1492.39 1859L1494.5 1848.32L1496.61 1837.5L1498.72 1826.54L1500.83 1815.45L1502.94 1804.22L1505.05 1792.86L1507.16 1781.38L1509.27 1769.79L1511.38 1758.1L1513.49 1746.34L1515.6 1734.54L1517.71 1722.7L1519.82 1710.85L1521.93 1699.02L1524.04 1687.21L1526.15 1675.45L1528.26 1663.76L1530.37 1652.17L1532.48 1640.68L1534.59 1629.33L1536.7 1618.12L1538.81 1607.09L1540.92 1596.25L1543.03 1585.62L1545.14 1575.22L1547.25 1565.05L1549.36 1555.14L1551.47 1545.49L1553.58 1536.12L1555.69 1527.03L1557.8 1518.25L1559.91 1509.77L1562.02 1501.62L1564.13 1493.81L1566.24 1486.35L1568.35 1479.25L1570.46 1472.52L1572.57 1466.18L1574.68 1460.24L1576.79 1454.71L1578.91 1449.6L1581.02 1444.92L1583.13 1440.67L1585.24 1436.86L1587.35 1433.48L1589.46 1430.53L1591.57 1428.02L1593.68 1425.95L1595.79 1424.32L1597.9 1423.13L1600.01 1422.38L1602.12 1422.07L1604.23 1422.21L1606.34 1422.79L1608.45 1423.82L1610.56 1425.29L1612.67 1427.21L1614.78 1429.58L1616.89 1432.4L1619 1435.66L1621.11 1439.36L1623.22 1443.47L1625.33 1448L1627.44 1452.94L1629.55 1458.27L1631.66 1463.99L1633.77 1470.09L1635.88 1476.56L1637.99 1483.39L1640.1 1490.58L1642.21 1498.11L1644.32 1505.97L1646.43 1514.17L1648.54 1522.68L1650.65 1531.51L1652.76 1540.63L1654.87 1550.04L1656.98 1559.72L1659.09 1569.67L1661.2 1579.85L1663.31 1590.27L1665.42 1600.9L1667.53 1611.73L1669.64 1622.75L1671.75 1633.93L1673.87 1645.28L1675.98 1656.77L1678.09 1668.39L1680.2 1680.12L1682.31 1691.95L1684.42 1703.87L1686.53 1715.86L1688.64 1727.9L1690.75 1739.99L1692.86 1752.11L1694.97 1764.25L1697.08 1776.39L1699.19 1788.54L1701.3 1800.66L1703.41 1812.75L1705.52 1824.81L1707.63 1836.8L1709.74 1848.74L1711.85 1860.59L1713.96 1872.36L1716.07 1884.02L1718.18 1895.57L1720.29 1906.99L1722.4 1918.27L1724.51 1929.4L1726.62 1940.37L1728.73 1951.18L1730.84 1961.81L1732.95 1972.26L1735.06 1982.53L1737.17 1992.6L1739.28 2002.48L1741.39 2012.16L1743.5 2021.62L1745.61 2030.87L1747.72 2039.9L1749.83 2048.69L1751.94 2057.26L1754.05 2065.58L1756.16 2073.65L1758.27 2081.47L1760.38 2089.03L1762.49 2096.33L1764.6 2103.35L1766.71 2110.11L1768.83 2116.59L1770.94 2122.79L1773.05 2128.71L1775.16 2134.34L1777.27 2139.68L1779.38 2144.74L1781.49 2149.49L1783.6 2153.95L1785.71 2158.1L1787.82 2161.95L1789.93 2165.49L1792.04 2168.71L1794.15 2171.62L1796.26 2174.21L1798.37 2176.47L1800.48 2178.42L1802.59 2180.06L1804.7 2181.38L1806.81 2182.4L1808.92 2183.12L1811.03 2183.55L1813.14 2183.68L1815.25 2183.53L1817.36 2183.09L1819.47 2182.37L1821.58 2181.39L1823.69 2180.13L1825.8 2178.61L1827.91 2176.83L1830.02 2174.79L1832.13 2172.5L1834.24 2169.96L1836.35 2167.18L1838.46 2164.16L1840.57 2160.9L1842.68 2157.4L1844.79 2153.66L1846.9 2149.69L1849.01 2145.48L1851.12 2141.05L1853.23 2136.38L1855.34 2131.49L1857.45 2126.37L1859.56 2121.02L1861.67 2115.46L1863.79 2109.67L1865.9 2103.67L1868.01 2097.45L1870.12 2091.02L1872.23 2084.38L1874.34 2077.54L1876.45 2070.52L1878.56 2063.33L1880.67 2055.98L1882.78 2048.48L1884.89 2040.85L1887 2033.09L1889.11 2025.22L1891.22 2017.26L1893.33 2009.2L1895.44 2001.06L1897.55 1992.86L1899.66 1984.61L1901.77 1976.32L1903.88 1968L1905.99 1959.66L1908.1 1951.31L1910.21 1942.97L1912.32 1934.63L1914.43 1926.31L1916.54 1918.02L1918.65 1909.77L1920.76 1901.55L1922.87 1893.39L1924.98 1885.29L1927.09 1877.25L1929.2 1869.29L1931.31 1861.42L1933.42 1853.63L1935.53 1845.95L1937.64 1838.37L1939.75 1830.92L1941.86 1823.59L1943.97 1816.39L1946.08 1809.33L1948.19 1802.41L1950.3 1795.65L1952.41 1789.04L1954.52 1782.6L1956.63 1776.32L1958.75 1770.21L1960.86 1764.28L1962.97 1758.54L1965.08 1752.99L1967.19 1747.63L1969.3 1742.48L1971.41 1737.53L1973.52 1732.79L1975.63 1728.28L1977.74 1723.99L1979.85 1719.92L1981.96 1716.09L1984.07 1712.48L1986.18 1709.1L1988.29 1705.95L1990.4 1703.01L1992.51 1700.3L1994.62 1697.81L1996.73 1695.54L1998.84 1693.48L2000.95 1691.64L2003.06 1690.01L2005.17 1688.59L2007.28 1687.39L2009.39 1686.39L2011.5 1685.6L2013.61 1685.02L2015.72 1684.64L2017.83 1684.46L2019.94 1684.5L2022.05 1684.74L2024.16 1685.2L2026.27 1685.87L2028.38 1686.75L2030.49 1687.85L2032.6 1689.18L2034.71 1690.72L2036.82 1692.49L2038.93 1694.49L2041.04 1696.71L2043.15 1699.17L2045.26 1701.86L2047.37 1704.78L2049.48 1707.94L2051.59 1711.34L2053.71 1714.98L2055.82 1718.85L2057.93 1722.94L2060.04 1727.25L2062.15 1731.77L2064.26 1736.5L2066.37 1741.42L2068.48 1746.54L2070.59 1751.84L2072.7 1757.32L2074.81 1762.97L2076.92 1768.78L2079.03 1774.76L2081.14 1780.88L2083.25 1787.15L2085.36 1793.56L2087.47 1800.1L2089.58 1806.77L2091.69 1813.56L2093.8 1820.45L2095.91 1827.45L2098.02 1834.54L2100.13 1841.72L2102.24 1848.98L2104.35 1856.32L2106.46 1863.72L2108.57 1871.17L2110.68 1878.68L2112.79 1886.23L2114.9 1893.81L2117.01 1901.43L2119.12 1909.06L2121.23 1916.7L2123.34 1924.35L2125.45 1931.99L2127.56 1939.63L2129.67 1947.25L2131.78 1954.84L2133.89 1962.39L2136 1969.9L2138.11 1977.37L2140.22 1984.77L2142.33 1992.11L2144.44 1999.38L2146.55 2006.56L2148.67 2013.66L2150.78 2020.66L2152.89 2027.55L2155 2034.33L2157.11 2040.99L2159.22 2047.52L2161.33 2053.91L2163.44 2060.16L2165.55 2066.28L2167.66 2072.26L2169.77 2078.11L2171.88 2083.81L2173.99 2089.39L2176.1 2094.83L2178.21 2100.13L2180.32 2105.3L2182.43 2110.34L2184.54 2115.24L2186.65 2120.02L2188.76 2124.66L2190.87 2129.17L2192.98 2133.55L2195.09 2137.8L2197.2 2141.93L2199.31 2145.92L2201.42 2149.8L2203.53 2153.55L2205.64 2157.19L2207.75 2160.71L2209.86 2164.12L2211.97 2167.43L2214.08 2170.63L2216.19 2173.73L2218.3 2176.74L2220.41 2179.65L2222.52 2182.48L2224.63 2185.22L2226.74 2187.87L2228.85 2190.45L2230.96 2192.94L2233.07 2195.39" stroke-width="4.4" stroke-linecap="butt" stroke-dasharray="14.28 15.68" stroke-dashoffset="0"/>
<path d="M1397.43 2213.93L1399.54 2212.66L1401.65 2211.41L1403.76 2210.18L1405.87 2208.95L1407.98 2207.74L1410.09 2206.53L1412.2 2205.33L1414.31 2204.12L1416.42 2202.91L1418.53 2201.7L1420.64 2200.47L1422.75 2199.23L1424.86 2197.98L1426.97 2196.7L1429.08 2195.41L1431.19 2194.09L1433.3 2192.74L1435.41 2191.35L1437.52 2189.94L1439.63 2188.5L1441.74 2187.03L1443.85 2185.53L1445.96 2184L1448.07 2182.45L1450.18 2180.88L1452.29 2179.28L1454.4 2177.66L1456.51 2176.03L1458.62 2174.37L1460.73 2172.69L1462.84 2171L1464.95 2169.3L1467.06 2167.58L1469.17 2165.85L1471.28 2164.1L1473.39 2162.35L1475.5 2160.59L1477.61 2158.82L1479.72 2157.05L1481.83 2155.27L1483.95 2153.5L1486.06 2151.72L1488.17 2149.95L1490.28 2148.19L1492.39 2146.43L1494.5 2144.68L1496.61 2142.95L1498.72 2141.22L1500.83 2139.52L1502.94 2137.82L1505.05 2136.15L1507.16 2134.5L1509.27 2132.87L1511.38 2131.26L1513.49 2129.67L1515.6 2128.11L1517.71 2126.57L1519.82 2125.05L1521.93 2123.55L1524.04 2122.08L1526.15 2120.63L1528.26 2119.21L1530.37 2117.8L1532.48 2116.43L1534.59 2115.07L1536.7 2113.74L1538.81 2112.44L1540.92 2111.16L1543.03 2109.9L1545.14 2108.67L1547.25 2107.47L1549.36 2106.3L1551.47 2105.15L1553.58 2104.04L1555.69 2102.96L1557.8 2101.92L1559.91 2100.91L1562.02 2099.94L1564.13 2099.01L1566.24 2098.12L1568.35 2097.27L1570.46 2096.47L1572.57 2095.71L1574.68 2095L1576.79 2094.34L1578.91 2093.72L1581.02 2093.16L1583.13 2092.65L1585.24 2092.2L1587.35 2091.79L1589.46 2091.43L1591.57 2091.13L1593.68 2090.87L1595.79 2090.67L1597.9 2090.51L1600.01 2090.4L1602.12 2090.35L1604.23 2090.34L1606.34 2090.38L1608.45 2090.46L1610.56 2090.6L1612.67 2090.78L1614.78 2091.01L1616.89 2091.29L1619 2091.61L1621.11 2091.98L1623.22 2092.4L1625.33 2092.87L1627.44 2093.39L1629.55 2093.95L1631.66 2094.56L1633.77 2095.23L1635.88 2095.94L1637.99 2096.7L1640.1 2097.51L1642.21 2098.37L1644.32 2099.28L1646.43 2100.24L1648.54 2101.26L1650.65 2102.32L1652.76 2103.44L1654.87 2104.6L1656.98 2105.82L1659.09 2107.09L1661.2 2108.41L1663.31 2109.77L1665.42 2111.18L1667.53 2112.64L1669.64 2114.15L1671.75 2115.7L1673.87 2117.29L1675.98 2118.93L1678.09 2120.61L1680.2 2122.34L1682.31 2124.1L1684.42 2125.91L1686.53 2127.75L1688.64 2129.64L1690.75 2131.56L1692.86 2133.52L1694.97 2135.51L1697.08 2137.53L1699.19 2139.57L1701.3 2141.63L1703.41 2143.71L1705.52 2145.81L1707.63 2147.92L1709.74 2150.03L1711.85 2152.15L1713.96 2154.27L1716.07 2156.39L1718.18 2158.5L1720.29 2160.6L1722.4 2162.69L1724.51 2164.76L1726.62 2166.82L1728.73 2168.85L1730.84 2170.87L1732.95 2172.85L1735.06 2174.81L1737.17 2176.75L1739.28 2178.65L1741.39 2180.52L1743.5 2182.35L1745.61 2184.15L1747.72 2185.91L1749.83 2187.63L1751.94 2189.3L1754.05 2190.94L1756.16 2192.53L1758.27 2194.07L1760.38 2195.56L1762.49 2196.99L1764.6 2198.38L1766.71 2199.71L1768.83 2200.98L1770.94 2202.19L1773.05 2203.34L1775.16 2204.43L1777.27 2205.46L1779.38 2206.41L1781.49 2207.3L1783.6 2208.12L1785.71 2208.86L1787.82 2209.53L1789.93 2210.13L1792.04 2210.64L1794.15 2211.08L1796.26 2211.43L1798.37 2211.7L1800.48 2211.89L1802.59 2211.99L1804.7 2212.02L1806.81 2211.96L1808.92 2211.83L1811.03 2211.62L1813.14 2211.34L1815.25 2210.98L1817.36 2210.55L1819.47 2210.06L1821.58 2209.49L1823.69 2208.86L1825.8 2208.17L1827.91 2207.41L1830.02 2206.59L1832.13 2205.72L1834.24 2204.78L1836.35 2203.79L1838.46 2202.74L1840.57 2201.63L1842.68 2200.47L1844.79 2199.26L1846.9 2197.99L1849.01 2196.66L1851.12 2195.29L1853.23 2193.86L1855.34 2192.38L1857.45 2190.86L1859.56 2189.28L1861.67 2187.65L1863.79 2185.97L1865.9 2184.24L1868.01 2182.47L1870.12 2180.65L1872.23 2178.78L1874.34 2176.87L1876.45 2174.92L1878.56 2172.94L1880.67 2170.92L1882.78 2168.88L1884.89 2166.82L1887 2164.73L1889.11 2162.63L1891.22 2160.52L1893.33 2158.39L1895.44 2156.27L1897.55 2154.14L1899.66 2152.01L1901.77 2149.9L1903.88 2147.79L1905.99 2145.7L1908.1 2143.62L1910.21 2141.57L1912.32 2139.53L1914.43 2137.53L1916.54 2135.54L1918.65 2133.59L1920.76 2131.66L1922.87 2129.77L1924.98 2127.91L1927.09 2126.08L1929.2 2124.3L1931.31 2122.55L1933.42 2120.84L1935.53 2119.17L1937.64 2117.55L1939.75 2115.98L1941.86 2114.45L1943.97 2112.98L1946.08 2111.55L1948.19 2110.18L1950.3 2108.86L1952.41 2107.59L1954.52 2106.37L1956.63 2105.2L1958.75 2104.08L1960.86 2103.01L1962.97 2102L1965.08 2101.04L1967.19 2100.13L1969.3 2099.27L1971.41 2098.46L1973.52 2097.7L1975.63 2097L1977.74 2096.35L1979.85 2095.74L1981.96 2095.2L1984.07 2094.7L1986.18 2094.25L1988.29 2093.84L1990.4 2093.49L1992.51 2093.18L1994.62 2092.91L1996.73 2092.68L1998.84 2092.5L2000.95 2092.36L2003.06 2092.25L2005.17 2092.18L2007.28 2092.15L2009.39 2092.15L2011.5 2092.19L2013.61 2092.25L2015.72 2092.35L2017.83 2092.48L2019.94 2092.64L2022.05 2092.82L2024.16 2093.04L2026.27 2093.29L2028.38 2093.57L2030.49 2093.89L2032.6 2094.23L2034.71 2094.61L2036.82 2095.03L2038.93 2095.47L2041.04 2095.95L2043.15 2096.47L2045.26 2097.02L2047.37 2097.6L2049.48 2098.23L2051.59 2098.88L2053.71 2099.58L2055.82 2100.31L2057.93 2101.08L2060.04 2101.89L2062.15 2102.73L2064.26 2103.61L2066.37 2104.53L2068.48 2105.49L2070.59 2106.49L2072.7 2107.53L2074.81 2108.6L2076.92 2109.72L2079.03 2110.88L2081.14 2112.07L2083.25 2113.31L2085.36 2114.59L2087.47 2115.91L2089.58 2117.27L2091.69 2118.67L2093.8 2120.1L2095.91 2121.58L2098.02 2123.09L2100.13 2124.63L2102.24 2126.2L2104.35 2127.8L2106.46 2129.42L2108.57 2131.07L2110.68 2132.75L2112.79 2134.44L2114.9 2136.15L2117.01 2137.88L2119.12 2139.62L2121.23 2141.38L2123.34 2143.14L2125.45 2144.92L2127.56 2146.7L2129.67 2148.48L2131.78 2150.27L2133.89 2152.07L2136 2153.86L2138.11 2155.66L2140.22 2157.45L2142.33 2159.25L2144.44 2161.04L2146.55 2162.82L2148.67 2164.6L2150.78 2166.36L2152.89 2168.12L2155 2169.87L2157.11 2171.61L2159.22 2173.34L2161.33 2175.05L2163.44 2176.74L2165.55 2178.42L2167.66 2180.08L2169.77 2181.72L2171.88 2183.34L2173.99 2184.94L2176.1 2186.52L2178.21 2188.08L2180.32 2189.62L2182.43 2191.13L2184.54 2192.62L2186.65 2194.08L2188.76 2195.52L2190.87 2196.93L2192.98 2198.31L2195.09 2199.67L2197.2 2200.99L2199.31 2202.28L2201.42 2203.55L2203.53 2204.78L2205.64 2205.97L2207.75 2207.13L2209.86 2208.26L2211.97 2209.35L2214.08 2210.41L2216.19 2211.43L2218.3 2212.41L2220.41 2213.35L2222.52 2214.25L2224.63 2215.11L2226.74 2215.93L2228.85 2216.71L2230.96 2217.44L2233.07 2218.13" stroke-width="4.4" stroke-linecap="butt" stroke-dasharray="3.04 11.93 14.28 11.93" stroke-dashoffset="0"/>
</g>
<g fill="#000" font-family='"Liberation Sans", "DejaVu Sans", sans-serif' font-size="29.7">
<text x="1388.99" y="2396.6" text-anchor="middle">0.0</text>
<text x="1557.8" y="2396.6" text-anchor="middle">0.2</text>
<text x="1726.62" y="2396.6" text-anchor="middle">0.4</text>
<text x="1895.44" y="2396.6" text-anchor="middle">0.6</text>
<text x="2064.26" y="2396.6" text-anchor="middle">0.8</text>
<text x="2233.07" y="2396.6" text-anchor="middle">1.0</text>
<text transform="translate(1321.1 2295.96) rotate(-90)" text-anchor="middle">0</text>
<text transform="translate(1321.1 2070.73) rotate(-90)" text-anchor="middle">5</text>
<text transform="translate(1321.1 1845.5) rotate(-90)" text-anchor="middle">10</text>
<text transform="translate(1321.1 1620.27) rotate(-90)" text-anchor="middle">15</text>
<text transform="translate(1321.1 1395.04) rotate(-90)" text-anchor="middle">20</text>
<text x="1815.5" y="2467.7" text-anchor="middle">u</text>
<text transform="translate(1241.4 1845.8) rotate(-90)"><tspan x="-35.15" y="0" font-size="29.7">σ</tspan><tspan x="-17.57" y="-15.9" font-size="21.3">2</tspan><tspan x="-5.86" y="-0.3" font-size="36.5" stroke="#fff" stroke-width="1.1" paint-order="fill stroke">(</tspan><tspan x="7.07" y="0" font-size="29.7">u</tspan><tspan x="24.09" y="-0.3" font-size="36.5" stroke="#fff" stroke-width="1.1" paint-order="fill stroke">)</tspan></text>
</g>
<g fill="#000" font-family='"Liberation Sans", "DejaVu Sans", sans-serif' font-size="34.7">
<text><tspan x="1718.23" y="1298.8">c</tspan> <tspan x="1743.35" y="1299.83" font-size="37.82">=</tspan> <tspan x="1772.1" y="1298.8">4</tspan>  <tspan x="1809.56" y="1298.8">k</tspan> <tspan x="1833.85" y="1299.83" font-size="37.82">=</tspan> <tspan x="1861.84" y="1298.8">0.4</tspan></text>
</g>
</g>
</svg></body></html>
